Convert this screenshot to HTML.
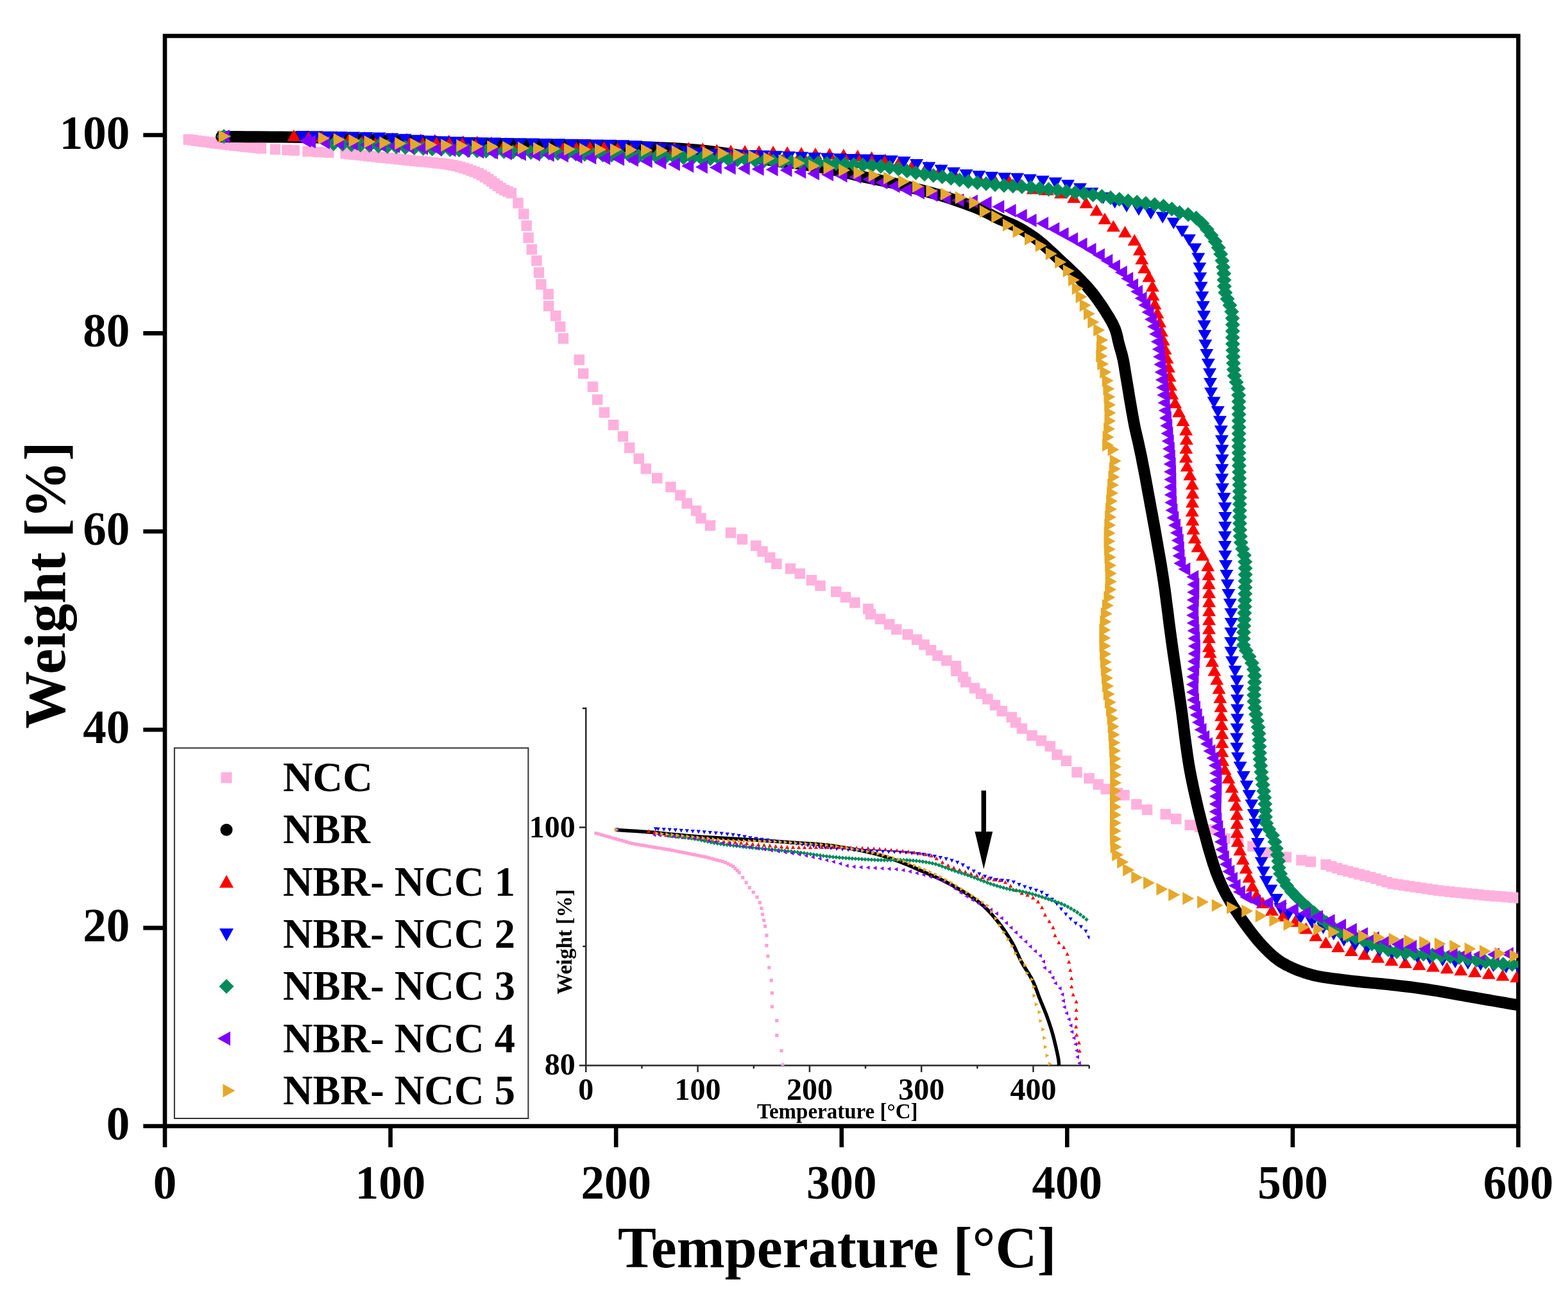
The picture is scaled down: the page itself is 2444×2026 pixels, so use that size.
<!DOCTYPE html>
<html><head><meta charset="utf-8"><title>TGA Weight vs Temperature</title>
<style>html,body{margin:0;padding:0;background:#fff;}svg{display:block;}</style></head>
<body><svg width="2444" height="2026" viewBox="0 0 2444 2026">
<rect width="2444" height="2026" fill="#fff"/>
<g stroke="#000" stroke-width="6.6" fill="none" stroke-linecap="square">
<rect x="257.0" y="56.0" width="2109.5" height="1699.0"/>
</g>
<g stroke="#000" stroke-width="6.6">
<line x1="257.0" y1="1755.0" x2="257.0" y2="1788"/>
<line x1="608.6" y1="1755.0" x2="608.6" y2="1788"/>
<line x1="960.2" y1="1755.0" x2="960.2" y2="1788"/>
<line x1="1311.8" y1="1755.0" x2="1311.8" y2="1788"/>
<line x1="1663.3" y1="1755.0" x2="1663.3" y2="1788"/>
<line x1="2014.9" y1="1755.0" x2="2014.9" y2="1788"/>
<line x1="2366.5" y1="1755.0" x2="2366.5" y2="1788"/>
<line x1="223.3" y1="1755.0" x2="257.0" y2="1755.0"/>
<line x1="223.3" y1="1446.1" x2="257.0" y2="1446.1"/>
<line x1="223.3" y1="1137.2" x2="257.0" y2="1137.2"/>
<line x1="223.3" y1="828.3" x2="257.0" y2="828.3"/>
<line x1="223.3" y1="519.4" x2="257.0" y2="519.4"/>
<line x1="223.3" y1="210.5" x2="257.0" y2="210.5"/>
</g>
<g style="font-family:'Liberation Serif','Times New Roman',serif;font-weight:bold" font-size="73" fill="#000">
<text x="257.0" y="1868" text-anchor="middle">0</text>
<text x="608.6" y="1868" text-anchor="middle">100</text>
<text x="960.2" y="1868" text-anchor="middle">200</text>
<text x="1311.8" y="1868" text-anchor="middle">300</text>
<text x="1663.3" y="1868" text-anchor="middle">400</text>
<text x="2014.9" y="1868" text-anchor="middle">500</text>
<text x="2366.5" y="1868" text-anchor="middle">600</text>
<text x="202.2" y="1776.0" text-anchor="end">0</text>
<text x="202.2" y="1467.1" text-anchor="end">20</text>
<text x="202.2" y="1158.2" text-anchor="end">40</text>
<text x="202.2" y="849.3" text-anchor="end">60</text>
<text x="202.2" y="540.4" text-anchor="end">80</text>
<text x="202.2" y="231.5" text-anchor="end">100</text>
</g>
<text x="1304.7" y="1975" text-anchor="middle" font-size="90" style="font-family:'Liberation Serif','Times New Roman',serif;font-weight:bold">Temperature [°C]</text>
<text transform="translate(100.6,912) rotate(-90)" x="0" y="0" text-anchor="middle" font-size="90" style="font-family:'Liberation Serif','Times New Roman',serif;font-weight:bold">Weight [%]</text>
<defs><clipPath id="pc"><rect x="257" y="56" width="2109.5" height="1699"/></clipPath><clipPath id="ic"><rect x="913" y="1100" width="785.5" height="561"/></clipPath></defs>
<g clip-path="url(#pc)">
<path fill="#FFB1DD" d="M285.6 209.2h16.5v16.5h-16.5zM291.5 210.1h16.5v16.5h-16.5zM297.4 210.9h16.5v16.5h-16.5zM303.4 211.7h16.5v16.5h-16.5zM309.3 212.5h16.5v16.5h-16.5zM315.3 213.3h16.5v16.5h-16.5zM321.2 214.1h16.5v16.5h-16.5zM327.2 214.9h16.5v16.5h-16.5zM333.1 215.6h16.5v16.5h-16.5zM339.1 216.3h16.5v16.5h-16.5zM345 217h16.5v16.5h-16.5zM351 217.7h16.5v16.5h-16.5zM357 218.4h16.5v16.5h-16.5zM362.9 219.1h16.5v16.5h-16.5zM368.9 219.7h16.5v16.5h-16.5zM374.9 220.4h16.5v16.5h-16.5zM380.8 221h16.5v16.5h-16.5zM386.8 221.7h16.5v16.5h-16.5zM392.8 222.3h16.5v16.5h-16.5zM398.7 222.9h16.5v16.5h-16.5zM530.4 231.1h16.5v16.5h-16.5zM536.4 231.7h16.5v16.5h-16.5zM542.4 232.4h16.5v16.5h-16.5zM548.3 233h16.5v16.5h-16.5zM554.3 233.6h16.5v16.5h-16.5zM560.3 234.3h16.5v16.5h-16.5zM566.2 235h16.5v16.5h-16.5zM572.2 235.6h16.5v16.5h-16.5zM578.2 236.2h16.5v16.5h-16.5zM584.1 236.9h16.5v16.5h-16.5zM590.1 237.5h16.5v16.5h-16.5zM596.1 238.1h16.5v16.5h-16.5zM602 238.7h16.5v16.5h-16.5zM608 239.3h16.5v16.5h-16.5zM614 239.9h16.5v16.5h-16.5zM620 240.6h16.5v16.5h-16.5zM625.9 241.2h16.5v16.5h-16.5zM631.9 241.8h16.5v16.5h-16.5zM637.9 242.4h16.5v16.5h-16.5zM643.8 243h16.5v16.5h-16.5zM649.8 243.5h16.5v16.5h-16.5zM655.8 244.1h16.5v16.5h-16.5zM661.7 244.7h16.5v16.5h-16.5zM667.7 245.2h16.5v16.5h-16.5zM673.7 245.9h16.5v16.5h-16.5zM679.6 246.5h16.5v16.5h-16.5zM685.6 247.3h16.5v16.5h-16.5zM691.5 248.2h16.5v16.5h-16.5zM697.4 249.2h16.5v16.5h-16.5zM703.3 250.5h16.5v16.5h-16.5zM709.1 252h16.5v16.5h-16.5zM714.9 253.7h16.5v16.5h-16.5zM720.5 255.6h16.5v16.5h-16.5zM726.2 257.7h16.5v16.5h-16.5zM731.8 259.8h16.5v16.5h-16.5zM737.3 262.1h16.5v16.5h-16.5zM742.7 264.8h16.5v16.5h-16.5zM747.9 267.8h16.5v16.5h-16.5zM752.9 271.1h16.5v16.5h-16.5zM757.9 274.4h16.5v16.5h-16.5zM762.8 277.9h16.5v16.5h-16.5zM767.6 281.5h16.5v16.5h-16.5zM772.5 284.9h16.5v16.5h-16.5zM777.7 288h16.5v16.5h-16.5zM783.2 290.2h16.5v16.5h-16.5zM788.6 292.8h16.5v16.5h-16.5zM799.3 308.3h16.5v16.5h-16.5zM808.1 325.2h16.5v16.5h-16.5zM812.5 343.6h16.5v16.5h-16.5zM815.4 362.3h16.5v16.5h-16.5zM820.6 380.5h16.5v16.5h-16.5zM828.2 397.9h16.5v16.5h-16.5zM831.7 416.5h16.5v16.5h-16.5zM835.1 435.1h16.5v16.5h-16.5zM846.4 450.2h16.5v16.5h-16.5zM846.9 468.8h16.5v16.5h-16.5zM858 483.9h16.5v16.5h-16.5zM865 501h16.5v16.5h-16.5zM869.7 519.2h16.5v16.5h-16.5zM420.8 224.5h16.5v16.5h-16.5zM439.2 225.5h16.5v16.5h-16.5zM450.6 226.2h16.5v16.5h-16.5zM471.4 227.7h16.5v16.5h-16.5zM487.8 228.8h16.5v16.5h-16.5zM504.1 229.6h16.5v16.5h-16.5zM894.6 552.5h16.5v16.5h-16.5zM901 573.9h16.5v16.5h-16.5zM915.8 594.6h16.5v16.5h-16.5zM923 614.6h16.5v16.5h-16.5zM933.6 634.6h16.5v16.5h-16.5zM948 654.1h16.5v16.5h-16.5zM962.8 672h16.5v16.5h-16.5zM973 689.4h16.5v16.5h-16.5zM987.5 706.5h16.5v16.5h-16.5zM998.6 722.2h16.5v16.5h-16.5zM1016 737h16.5v16.5h-16.5zM1037.2 750.8h16.5v16.5h-16.5zM1052.2 763.6h16.5v16.5h-16.5zM1062.5 776.2h16.5v16.5h-16.5zM1076.8 787.8h16.5v16.5h-16.5zM1084.3 799.4h16.5v16.5h-16.5zM1098.7 810.8h16.5v16.5h-16.5zM1130.8 822h16.5v16.5h-16.5zM1148.7 832.2h16.5v16.5h-16.5zM1170 842.2h16.5v16.5h-16.5zM1180.3 851.2h16.5v16.5h-16.5zM1192 860.8h16.5v16.5h-16.5zM1202.2 870.4h16.5v16.5h-16.5zM1223.7 878h16.5v16.5h-16.5zM1238.5 885.8h16.5v16.5h-16.5zM1256.7 896h16.5v16.5h-16.5zM1270.3 904.5h16.5v16.5h-16.5zM1295 914h16.5v16.5h-16.5zM1309.8 922.6h16.5v16.5h-16.5zM1324.2 931.1h16.5v16.5h-16.5zM1345 940.8h16.5v16.5h-16.5zM1348.8 948.9h16.5v16.5h-16.5zM1363.7 956.5h16.5v16.5h-16.5zM1378 964.8h16.5v16.5h-16.5zM1389 972.8h16.5v16.5h-16.5zM1406.5 980.4h16.5v16.5h-16.5zM1420.8 988.4h16.5v16.5h-16.5zM1432.2 996.5h16.5v16.5h-16.5zM1442.8 1005h16.5v16.5h-16.5zM1453.2 1013.6h16.5v16.5h-16.5zM1467 1021.2h16.5v16.5h-16.5zM1481.8 1029.8h16.5v16.5h-16.5zM1482.2 1037.5h16.5v16.5h-16.5zM1492.8 1046.7h16.5v16.5h-16.5zM1497 1054.7h16.5v16.5h-16.5zM1510.8 1064.2h16.5v16.5h-16.5zM1520.8 1072.8h16.5v16.5h-16.5zM1531.2 1081.2h16.5v16.5h-16.5zM1542.8 1090.8h16.5v16.5h-16.5zM1553.5 1100h16.5v16.5h-16.5zM1568.5 1109.5h16.5v16.5h-16.5zM1574.8 1117.8h16.5v16.5h-16.5zM1584.7 1127.3h16.5v16.5h-16.5zM1600.2 1138h16.5v16.5h-16.5zM1614.8 1146h16.5v16.5h-16.5zM1628.5 1154.8h16.5v16.5h-16.5zM1639.3 1168h16.5v16.5h-16.5zM1653.7 1177.5h16.5v16.5h-16.5zM1670.3 1195.3h16.5v16.5h-16.5zM1689.3 1204.8h16.5v16.5h-16.5zM1703.7 1214.3h16.5v16.5h-16.5zM1715.5 1221.5h16.5v16.5h-16.5zM1733.8 1227.8h16.5v16.5h-16.5zM1744.2 1231h16.5v16.5h-16.5zM1763.2 1245.3h16.5v16.5h-16.5zM1779.8 1253.8h16.5v16.5h-16.5zM1808.5 1260.8h16.5v16.5h-16.5zM1825 1268h16.5v16.5h-16.5zM1846.5 1277.5h16.5v16.5h-16.5zM1861.8 1280.8h16.5v16.5h-16.5zM1879.8 1284.7h16.5v16.5h-16.5zM1901.2 1298.8h16.5v16.5h-16.5zM1921.8 1303.8h16.5v16.5h-16.5zM1944.2 1310.8h16.5v16.5h-16.5zM1968 1320.3h16.5v16.5h-16.5zM1996.5 1327.5h16.5v16.5h-16.5zM2020.3 1332.2h16.5v16.5h-16.5zM2034.7 1334.8h16.5v16.5h-16.5zM2058.4 1339.3h16.5v16.5h-16.5zM2058.4 1339.3h16.5v16.5h-16.5zM2067 1342h16.5v16.5h-16.5zM2075.6 1344.7h16.5v16.5h-16.5zM2084.2 1347.4h16.5v16.5h-16.5zM2092.9 1349.8h16.5v16.5h-16.5zM2101.6 1352h16.5v16.5h-16.5zM2110.3 1354.2h16.5v16.5h-16.5zM2119.1 1356.4h16.5v16.5h-16.5zM2127.8 1358.7h16.5v16.5h-16.5zM2136.4 1361.3h16.5v16.5h-16.5zM2145 1363.9h16.5v16.5h-16.5zM2153.6 1366.4h16.5v16.5h-16.5zM2162.3 1369h16.5v16.5h-16.5zM2171.2 1370.3h16.5v16.5h-16.5zM2180.1 1371.7h16.5v16.5h-16.5zM2189 1373h16.5v16.5h-16.5zM2197.9 1374.3h16.5v16.5h-16.5zM2206.8 1375.6h16.5v16.5h-16.5zM2215.7 1377h16.5v16.5h-16.5zM2224.6 1378.3h16.5v16.5h-16.5zM2233.5 1379.6h16.5v16.5h-16.5zM2242.4 1380.6h16.5v16.5h-16.5zM2251.4 1381.5h16.5v16.5h-16.5zM2260.3 1382.4h16.5v16.5h-16.5zM2269.3 1383.3h16.5v16.5h-16.5zM2278.2 1384.2h16.5v16.5h-16.5zM2287.2 1385.1h16.5v16.5h-16.5zM2296.1 1386h16.5v16.5h-16.5zM2305.1 1386.9h16.5v16.5h-16.5zM2314.1 1387.7h16.5v16.5h-16.5zM2323 1388.4h16.5v16.5h-16.5zM2332 1389.1h16.5v16.5h-16.5zM2341 1389.8h16.5v16.5h-16.5zM2350 1390.5h16.5v16.5h-16.5zM2358.9 1391.2h16.5v16.5h-16.5z"/>
<polyline points="345,213 355,213.1 368.5,213.1 384.6,213.2 402.4,213.3 420.9,213.4 439.1,213.6 456.2,213.8 471,214 483.5,214.3 494.7,214.6 504.8,214.9 514.6,215.2 524.5,215.6 535,216.1 546.7,216.5 560,217 575.3,217.5 592.4,218.2 610.5,218.8 629.3,219.5 648.2,220.2 666.6,220.8 684.1,221.5 700,222 714.4,222.5 727.8,222.9 740.4,223.3 752.5,223.7 764.3,224 775.9,224.4 787.8,224.7 800,225 812.5,225.3 825,225.6 837.5,225.8 850,226.1 862.5,226.3 875,226.5 887.5,226.8 900,227 912.5,227.2 925,227.4 937.5,227.6 950,227.8 962.5,228 975,228.2 987.5,228.6 1000,229 1012.4,229.5 1024.7,230 1036.9,230.5 1049.1,231.1 1061.5,231.8 1074,232.7 1086.8,233.7 1100,235 1114.1,236.6 1129.4,238.7 1145.3,241 1161.2,243.4 1176.6,245.8 1190.9,248 1203.5,250 1214,251.5 1221.8,252.6 1227.4,253.2 1231.3,253.7 1234.1,253.9 1236.5,254.1 1239,254.4 1242.3,254.8 1247,255.5 1253,256.5 1259.8,257.6 1267,258.8 1274.6,260.2 1282.2,261.5 1289.6,262.9 1296.6,264.2 1303,265.5 1308.7,266.7 1313.9,267.9 1318.7,269.1 1323.4,270.2 1328,271.4 1332.7,272.6 1337.6,273.8 1343,275 1348.7,276.2 1354.6,277.5 1360.7,278.7 1366.9,279.9 1373.3,281.2 1379.8,282.6 1386.3,284 1393,285.5 1400,287.2 1407.5,289 1415.3,291 1423.1,293 1430.7,294.9 1437.9,296.8 1444.4,298.5 1450,300 1454.5,301.2 1458.1,302.2 1461,303 1463.4,303.7 1465.7,304.3 1468,305.1 1470.7,305.9 1474,307 1477.9,308.3 1482.2,309.7 1486.8,311.3 1491.5,312.9 1496.1,314.5 1500.6,316.1 1504.8,317.6 1508.6,319 1511.9,320.2 1514.8,321.3 1517.4,322.2 1519.8,323.2 1522.2,324.1 1524.6,325.1 1527.2,326.2 1530,327.5 1533,328.9 1536,330.4 1539.2,332 1542.4,333.6 1545.6,335.3 1549,337.1 1552.4,338.8 1556,340.5 1559.7,342.2 1563.5,343.8 1567.5,345.5 1571.5,347.2 1575.6,348.9 1579.7,350.7 1583.7,352.6 1587.7,354.7 1591.6,356.9 1595.5,359.1 1599.3,361.5 1603.2,363.9 1607,366.5 1610.8,369.1 1614.7,371.9 1618.6,374.9 1622.5,378 1626.4,381.4 1630.4,384.9 1634.3,388.5 1638.3,392.2 1642.3,395.9 1646.2,399.6 1650.2,403.3 1654.2,407 1658.3,410.8 1662.5,414.7 1666.6,418.5 1670.7,422.4 1674.6,426.2 1678.4,429.9 1682,433.5 1685.4,437 1688.5,440.3 1691.6,443.6 1694.5,446.8 1697.3,450 1700,453.3 1702.8,456.6 1705.5,460.1 1708.2,463.7 1711,467.5 1713.7,471.4 1716.4,475.2 1718.9,479.1 1721.4,482.9 1723.7,486.5 1725.8,489.9 1727.8,493.1 1729.6,496.1 1731.2,498.9 1732.8,501.7 1734.2,504.4 1735.6,507.1 1736.8,509.8 1738,512.6 1739,515.5 1739.9,518.3 1740.7,521.2 1741.4,524 1742,526.9 1742.6,529.8 1743.3,532.7 1744,535.6 1744.8,538.5 1745.6,541.5 1746.5,544.4 1747.3,547.4 1748.2,550.4 1749,553.4 1749.7,556.3 1750.4,559.3 1751,562.1 1751.5,564.8 1752,567.4 1752.4,570.1 1752.9,572.9 1753.3,575.9 1753.9,579.2 1754.5,583 1755.2,587.3 1756,592.1 1756.9,597.2 1757.8,602.6 1758.7,608 1759.6,613.5 1760.4,618.8 1761.3,623.8 1762.1,628.6 1762.9,633.3 1763.7,637.9 1764.5,642.4 1765.3,647 1766.1,651.5 1766.9,656 1767.8,660.6 1768.7,665.2 1769.7,669.8 1770.8,674.4 1771.8,679 1772.9,683.6 1774,688.2 1775,692.8 1776,697.4 1777,702 1777.9,706.6 1778.9,711.2 1779.8,715.8 1780.7,720.4 1781.6,725 1782.5,729.6 1783.4,734.1 1784.2,738.4 1785,742.4 1785.7,746.2 1786.4,750.1 1787.1,754.2 1788,758.8 1788.9,764 1790,770 1791.3,776.9 1792.7,784.7 1794.2,793 1795.9,801.8 1797.5,810.8 1799.2,820 1800.8,829.1 1802.4,838 1803.9,846.6 1805.4,855.2 1806.9,863.7 1808.4,872.3 1809.9,881.1 1811.3,890.2 1812.8,899.6 1814.3,909.5 1815.8,919.8 1817.2,930.6 1818.6,941.6 1820.1,953 1821.5,964.5 1823,976.3 1824.6,988.1 1826.2,1000 1827.9,1012.1 1829.7,1024.7 1831.6,1037.4 1833.5,1050.3 1835.4,1063.1 1837.2,1075.8 1839,1088.1 1840.7,1100 1842.3,1111.6 1843.8,1123.2 1845.2,1134.5 1846.6,1145.6 1848,1156.4 1849.4,1166.8 1850.8,1176.7 1852.2,1186 1853.6,1194.6 1855,1202.4 1856.4,1209.7 1857.8,1216.6 1859.2,1223.3 1860.6,1229.9 1862.1,1236.6 1863.7,1243.6 1865.3,1250.8 1867,1258 1868.7,1265.1 1870.5,1272.3 1872.3,1279.5 1874.1,1286.7 1876,1293.8 1878,1301 1880,1308.3 1882,1315.7 1884.1,1323.2 1886.3,1330.6 1888.5,1337.9 1890.7,1345.1 1893,1351.9 1895.3,1358.4 1897.6,1364.5 1899.9,1370.2 1902.3,1375.6 1904.6,1380.8 1907.1,1386 1909.7,1391.1 1912.5,1396.2 1915.4,1401.5 1918.6,1406.9 1921.9,1412.5 1925.5,1418 1929.2,1423.6 1932.9,1429.1 1936.6,1434.4 1940.4,1439.6 1944,1444.6 1947.6,1449.4 1951.2,1454.1 1954.8,1458.6 1958.4,1463.1 1962,1467.3 1965.6,1471.4 1969.2,1475.3 1972.8,1479 1976.3,1482.5 1979.6,1485.7 1982.9,1488.7 1986.3,1491.6 1989.7,1494.3 1993.3,1496.9 1997.2,1499.5 2001.5,1502 2006.1,1504.5 2011,1506.9 2016.1,1509.2 2021.4,1511.5 2026.9,1513.6 2032.6,1515.6 2038.5,1517.5 2044.6,1519.2 2050.8,1520.7 2057.2,1522 2063.8,1523.2 2070.6,1524.2 2077.6,1525.1 2084.8,1526 2092.3,1526.9 2100,1527.9 2108.2,1528.9 2116.8,1529.8 2125.8,1530.7 2135,1531.6 2144.2,1532.4 2153.2,1533.3 2161.9,1534.1 2170,1535 2177.6,1535.9 2184.8,1536.7 2191.7,1537.5 2198.4,1538.3 2205,1539.2 2211.6,1540.1 2218.2,1541 2225,1542 2231.9,1543.1 2239,1544.2 2246,1545.4 2253.1,1546.7 2260,1547.9 2266.9,1549.2 2273.6,1550.4 2280,1551.5 2286.2,1552.6 2292.2,1553.6 2298,1554.6 2303.7,1555.6 2309.3,1556.6 2314.9,1557.6 2320.4,1558.5 2326,1559.5 2331.9,1560.5 2338.2,1561.6 2344.6,1562.7 2350.9,1563.8 2356.8,1564.8 2362.1,1565.7 2366.6,1566.4 2370,1567" fill="none" stroke="#000" stroke-width="18" stroke-linejoin="round" stroke-linecap="round"/>
<path fill="#FF0000" d="M349 202.6L359.5 220.6H338.5zM458 202.1L468.5 220.1H447.5zM480 202.7L490.5 220.7H469.5zM502 203.3L512.5 221.3H491.5zM524 203.8L534.5 221.8H513.5zM545.9 204.4L556.4 222.4H535.4zM567.9 205.1L578.4 223.1H557.4zM589.9 205.8L600.4 223.8H579.4zM611.9 206.5L622.4 224.5H601.4zM633.9 207.3L644.4 225.3H623.4zM655.8 208.2L666.3 226.2H645.3zM677.8 209L688.3 227H667.3zM699.8 209.9L710.3 227.9H689.3zM721.7 210.9L732.2 228.9H711.2zM743.7 211.8L754.2 229.8H733.2zM765.7 212.8L776.2 230.8H755.2zM787.6 213.9L798.1 231.9H777.1zM809.6 215.1L820.1 233.1H799.1zM831.5 216.3L842 234.3H821zM853.5 217.4L864 235.4H843zM875.4 218.4L885.9 236.4H864.9zM897.4 219.2L907.9 237.2H886.9zM919.4 219.7L929.9 237.7H908.9zM941.4 219.9L951.9 237.9H930.9zM963.4 219.9L973.9 237.9H952.9zM985.4 220L995.9 238H974.9zM1007.4 220.2L1017.9 238.2H996.9zM1029.4 220.6L1039.9 238.6H1018.9zM1051.4 221L1061.9 239H1040.9zM1073.4 221.6L1083.9 239.6H1062.9zM1095.3 222.3L1105.8 240.3H1084.8zM1117.2 224.5L1127.7 242.5H1106.7zM1139.1 225.4L1149.6 243.4H1128.6zM1161.1 226.1L1171.6 244.1H1150.6zM1183.1 226.6L1193.6 244.6H1172.6zM1205.1 227L1215.6 245H1194.6zM1227.1 227.9L1237.6 245.9H1216.6zM1249 229.1L1259.5 247.1H1238.5zM1271 229.9L1281.5 247.9H1260.5zM1293 230.6L1303.5 248.6H1282.5zM1314.9 231.8L1325.4 249.8H1304.4zM1336.8 233.3L1347.3 251.3H1326.3zM1358.6 235.7L1369.1 253.7H1348.1zM1380 239.4L1390.5 257.4H1369.5zM1401.5 243.2L1412 261.2H1391zM1422.9 247L1433.4 265H1412.4zM1444.3 251L1454.8 269H1433.8zM1465.5 255.4L1476 273.4H1455zM1486.6 260.2L1497.1 278.2H1476.1zM1507.5 265.6L1518 283.6H1497zM1527.4 271.1L1537.9 289.1H1516.9zM1549.3 269.3L1559.8 287.3H1538.8zM1571.3 270.1L1581.8 288.1H1560.8zM1591 278.4L1601.5 296.4H1580.5zM1610.4 284.4L1620.9 302.4H1599.9zM1632.3 286.3L1642.8 304.3H1621.8zM1653.6 291.3L1664.1 309.3H1643.1zM1673.8 298.2L1684.3 316.2H1663.3zM1693 306.6L1703.5 324.6H1682.5zM1709.2 318.3L1719.7 336.3H1698.7zM1722 331.6L1732.5 349.6H1711.5zM1735.4 343L1745.9 361H1724.9zM1753.5 352L1764 370H1743zM1768.2 364.8L1778.7 382.8H1757.7zM1776.3 379.9L1786.8 397.9H1765.8zM1779.8 394.1L1790.3 412.1H1769.3zM1783.8 408L1794.3 426H1773.3zM1790.9 421.4L1801.4 439.4H1780.4zM1796.3 436.4L1806.8 454.4H1785.8zM1797 450.4L1807.5 468.4H1786.5zM1800 464.3L1810.5 482.3H1789.5zM1804 478.2L1814.5 496.2H1793.5zM1807.6 492.3L1818.1 510.3H1797.1zM1810.5 506.4L1821 524.4H1800zM1813.3 520.5L1823.8 538.5H1802.8zM1816.1 534.5L1826.6 552.5H1805.6zM1819.1 548.5L1829.6 566.5H1808.6zM1821.5 562.6L1832 580.6H1811zM1823.1 576.7L1833.6 594.7H1812.6zM1824.5 590.7L1835 608.7H1814zM1826.8 604.6L1837.3 622.6H1816.3zM1831.6 618.2L1842.1 636.2H1821.1zM1837.5 632.3L1848 650.3H1827zM1844 646L1854.5 664H1833.5zM1848.6 660.5L1859.1 678.5H1838.1zM1849.4 674.9L1859.9 692.9H1838.9zM1848.8 688.9L1859.3 706.9H1838.3zM1848.5 702.9L1859 720.9H1838zM1850.3 716.8L1860.8 734.8H1839.8zM1854.8 730.6L1865.3 748.6H1844.3zM1858.3 745L1868.8 763H1847.8zM1858.9 759.1L1869.4 777.1H1848.4zM1858.5 773.1L1869 791.1H1848zM1858.2 787.1L1868.7 805.1H1847.7zM1858.8 801.1L1869.3 819.1H1848.3zM1859.9 815L1870.4 833H1849.4zM1862.2 828.9L1872.7 846.9H1851.7zM1867 842.6L1877.5 860.6H1856.5zM1874.5 855.8L1885 873.8H1864zM1882.7 872.2L1893.2 890.2H1872.2zM1883.9 886.3L1894.4 904.3H1873.4zM1884.3 900.3L1894.8 918.3H1873.8zM1884.6 914.3L1895.1 932.3H1874.1zM1884.6 928.3L1895.1 946.3H1874.1zM1884.6 942.3L1895.1 960.3H1874.1zM1884.6 956.3L1895.1 974.3H1874.1zM1884.5 970.3L1895 988.3H1874zM1884.5 984.3L1895 1002.3H1874zM1884.4 998.3L1894.9 1016.3H1873.9zM1886.2 1007.3L1896.7 1025.3H1875.7zM1889.5 1021.3L1900 1039.3H1879zM1892.9 1035.4L1903.4 1053.4H1882.4zM1896.7 1049.3L1907.2 1067.3H1886.2zM1900 1063.5L1910.5 1081.5H1889.5zM1901.9 1077.7L1912.4 1095.7H1891.4zM1903 1091.8L1913.5 1109.8H1892.5zM1903.7 1105.8L1914.2 1123.8H1893.2zM1904.3 1119.8L1914.8 1137.8H1893.8zM1904.9 1133.8L1915.4 1151.8H1894.4zM1904.9 1147.8L1915.4 1165.8H1894.4zM1904.8 1161.8L1915.3 1179.8H1894.3zM1905.7 1175.8L1916.2 1193.8H1895.2zM1909.1 1189.4L1919.6 1207.4H1898.6zM1914.9 1203.1L1925.4 1221.1H1904.4zM1920 1217.4L1930.5 1235.4H1909.5zM1924 1231.5L1934.5 1249.5H1913.5zM1926.8 1245.6L1937.3 1263.6H1916.3zM1928 1259.7L1938.5 1277.7H1917.5zM1928.2 1273.7L1938.7 1291.7H1917.7zM1928.2 1287.7L1938.7 1305.7H1917.7zM1929.2 1301.7L1939.7 1319.7H1918.7zM1932.8 1315.3L1943.3 1333.3H1922.3zM1937.3 1329.4L1947.8 1347.4H1926.8zM1942.1 1343.4L1952.6 1361.4H1931.6zM1946.9 1357.5L1957.4 1375.5H1936.4zM1952.1 1371.4L1962.6 1389.4H1941.6zM1958.5 1385.2L1969 1403.2H1948zM1968.2 1397.6L1978.7 1415.6H1957.7zM1982.5 1408.9L1993 1426.9H1972zM1999.6 1418L2010.1 1436H1989.1zM2018.6 1426.4L2029.1 1444.4H2008.1zM2035.7 1437.4L2046.2 1455.4H2025.2zM2050.9 1448.8L2061.4 1466.8H2040.4zM2066.6 1459.6L2077.1 1477.6H2056.1zM2085.7 1466L2096.2 1484H2075.2zM2106.3 1471.9L2116.8 1489.9H2095.8zM2126.8 1477.8L2137.3 1495.8H2116.3zM2147.8 1482.6L2158.3 1500.6H2137.3zM2169 1486.9L2179.5 1504.9H2158.5zM2190.4 1490.8L2200.9 1508.8H2179.9zM2212 1493.8L2222.5 1511.8H2201.5zM2233.7 1496.5L2244.2 1514.5H2223.2zM2255.4 1499.3L2265.9 1517.3H2244.9zM2277 1502.2L2287.5 1520.2H2266.5zM2298.7 1505.1L2309.2 1523.1H2288.2zM2320.4 1507.8L2330.9 1525.8H2309.9zM2342.1 1510.5L2352.6 1528.5H2331.6zM2363.9 1513.1L2374.4 1531.1H2353.4z"/>
<path fill="#0000FF" d="M349 222.4L359.5 204.4H338.5zM471 221.9L481.5 203.9H460.5zM491 222.3L501.5 204.3H480.5zM511 222.7L521.5 204.7H500.5zM531 223.1L541.5 205.1H520.5zM551 223.5L561.5 205.5H540.5zM571 224L581.5 206H560.5zM591 224.6L601.5 206.6H580.5zM610.9 225.4L621.4 207.4H600.4zM630.9 226.7L641.4 208.7H620.4zM650.8 228.2L661.3 210.2H640.3zM670.7 229.6L681.2 211.6H660.2zM690.7 230.5L701.2 212.5H680.2zM710.7 231.2L721.2 213.2H700.2zM730.7 231.7L741.2 213.7H720.2zM750.6 232.2L761.1 214.2H740.1zM770.6 232.6L781.1 214.6H760.1zM790.6 232.9L801.1 214.9H780.1zM810.6 233.3L821.1 215.3H800.1zM830.6 233.6L841.1 215.6H820.1zM850.6 234L861.1 216H840.1zM870.6 234.3L881.1 216.3H860.1zM890.6 234.7L901.1 216.7H880.1zM910.6 235.1L921.1 217.1H900.1zM930.6 235.5L941.1 217.5H920.1zM950.6 235.8L961.1 217.8H940.1zM970.6 236.3L981.1 218.3H960.1zM990.6 237.3L1001.1 219.3H980.1zM1010.5 238.8L1021 220.8H1000zM1030.3 240.9L1040.8 222.9H1019.8zM1050.1 243.2L1060.6 225.2H1039.6zM1069.9 245.7L1080.4 227.7H1059.4zM1089.7 248L1100.2 230H1079.2zM1109.5 249.9L1120 231.9H1099zM1129.5 251L1140 233H1119zM1149.4 251.7L1159.9 233.7H1138.9zM1169.4 252.1L1179.9 234.1H1158.9zM1189.4 252.6L1199.9 234.6H1178.9zM1209.4 253.3L1219.9 235.3H1198.9zM1229.4 254L1239.9 236H1218.9zM1249.4 254.8L1259.9 236.8H1238.9zM1269.3 255.7L1279.8 237.7H1258.8zM1289.3 256.5L1299.8 238.5H1278.8zM1309.3 257.2L1319.8 239.2H1298.8zM1329.3 257.9L1339.8 239.9H1318.8zM1349.3 258.5L1359.8 240.5H1338.8zM1369.2 259.2L1379.7 241.2H1358.7zM1389.2 260.2L1399.7 242.2H1378.7zM1409.1 261.9L1419.6 243.9H1398.6zM1428.6 266.1L1439.1 248.1H1418.1zM1447.7 270.5L1458.2 252.5H1437.2zM1467 274.8L1477.5 256.8H1456.5zM1486.4 278.7L1496.9 260.7H1475.9zM1506 281.9L1516.5 263.9H1495.5zM1525.8 284.1L1536.3 266.1H1515.3zM1545.6 285.8L1556.1 267.8H1535.1zM1565.5 287.3L1576 269.3H1555zM1585.5 287.8L1596 269.8H1575zM1605.4 289.5L1615.9 271.5H1594.9zM1625.2 291.8L1635.7 273.8H1614.7zM1645 294.5L1655.5 276.5H1634.5zM1664.5 298.3L1675 280.3H1654zM1683.5 303.6L1694 285.6H1673zM1701.8 310.5L1712.3 292.5H1691.3zM1719.7 317.8L1730.2 299.8H1709.2zM1737.6 324.9L1748.1 306.9H1727.1zM1756 331L1766.5 313H1745.5zM1774.9 336.3L1785.4 318.3H1764.4zM1793.7 342L1804.2 324H1783.2zM1812.1 348.3L1822.6 330.3H1801.6zM1829.2 357.2L1839.7 339.2H1818.7zM1842.5 369.7L1853 351.7H1832zM1853.3 383.2L1863.8 365.2H1842.8zM1862.5 397.3L1873 379.3H1852zM1867.8 412.2L1878.3 394.2H1857.3zM1869.8 427.3L1880.3 409.3H1859.3zM1870.7 442.4L1881.2 424.4H1860.2zM1872.1 457.3L1882.6 439.3H1861.6zM1873.8 472.3L1884.3 454.3H1863.3zM1875.3 487.3L1885.8 469.3H1864.8zM1876.5 502.3L1887 484.3H1866zM1877.1 517.3L1887.6 499.3H1866.6zM1877.7 532.2L1888.2 514.2H1867.2zM1878.8 547.2L1889.3 529.2H1868.3zM1880.8 562.1L1891.3 544.1H1870.3zM1883.3 577.1L1893.8 559.1H1872.8zM1885.5 592L1896 574H1875zM1886.5 607.1L1897 589.1H1876zM1887.5 622L1898 604H1877zM1892.1 636.4L1902.6 618.4H1881.6zM1898.2 651L1908.7 633H1887.7zM1901.5 666.3L1912 648.3H1891zM1903.3 681.3L1913.8 663.3H1892.8zM1904.4 696.3L1914.9 678.3H1893.9zM1904.9 711.3L1915.4 693.3H1894.4zM1905 726.3L1915.5 708.3H1894.5zM1904.7 741.3L1915.2 723.3H1894.2zM1904.6 756.3L1915.1 738.3H1894.1zM1905.3 771.2L1915.8 753.2H1894.8zM1908 786L1918.5 768H1897.5zM1909.5 801.1L1920 783.1H1899zM1909.7 816.1L1920.2 798.1H1899.2zM1909.5 831.1L1920 813.1H1899zM1909.3 846.1L1919.8 828.1H1898.8zM1909.3 861.1L1919.8 843.1H1898.8zM1909.7 876.1L1920.2 858.1H1899.2zM1910.6 891.1L1921.1 873.1H1900.1zM1911.8 906.1L1922.3 888.1H1901.3zM1913.3 921L1923.8 903H1902.8zM1914.9 936L1925.4 918H1904.4zM1917.3 950.9L1927.8 932.9H1906.8zM1918.9 965.9L1929.4 947.9H1908.4zM1919.1 980.9L1929.6 962.9H1908.6zM1918.8 995.9L1929.3 977.9H1908.3zM1918.6 1010.9L1929.1 992.9H1908.1zM1918.8 1025.9L1929.3 1007.9H1908.3zM1920.5 1040.8L1931 1022.8H1910zM1925.1 1055.4L1935.6 1037.4H1914.6zM1927.7 1070.5L1938.2 1052.5H1917.2zM1928.4 1085.5L1938.9 1067.5H1917.9zM1928.5 1100.5L1939 1082.5H1918zM1928.6 1115.5L1939.1 1097.5H1918.1zM1928.6 1130.5L1939.1 1112.5H1918.1zM1928.2 1145.5L1938.7 1127.5H1917.7zM1927.7 1160.5L1938.2 1142.5H1917.2zM1927.8 1175.5L1938.3 1157.5H1917.3zM1929.4 1190.4L1939.9 1172.4H1918.9zM1933.1 1205L1943.6 1187H1922.6zM1938.3 1219.7L1948.8 1201.7H1927.8zM1943.1 1234.4L1953.6 1216.4H1932.6zM1947.1 1249.3L1957.6 1231.3H1936.6zM1950.9 1264.1L1961.4 1246.1H1940.4zM1954.3 1279L1964.8 1261H1943.8zM1956.8 1294L1967.3 1276H1946.3zM1958.5 1309L1969 1291H1948zM1960.6 1323.9L1971.1 1305.9H1950.1zM1963.2 1338.8L1973.7 1320.8H1952.7zM1966.2 1353.7L1976.7 1335.7H1955.7zM1969.3 1368.6L1979.8 1350.6H1958.8zM1973.4 1383.3L1983.9 1365.3H1962.9zM1980.8 1396.8L1991.3 1378.8H1970.3zM1989.4 1411L1999.9 1393H1978.9zM1995.6 1425.4L2006.1 1407.4H1985.1zM2008.5 1434.5L2019 1416.5H1998zM2027 1440.6L2037.5 1422.6H2016.5zM2045.2 1447.4L2055.7 1429.4H2034.7zM2062.5 1455.7L2073 1437.7H2052zM2078.7 1465.5L2089.2 1447.5H2068.2zM2094.7 1475L2105.2 1457H2084.2zM2112.1 1481.9L2122.6 1463.9H2101.6zM2131.1 1486.9L2141.6 1468.9H2120.6zM2150.3 1491.4L2160.8 1473.4H2139.8zM2169.6 1495.5L2180.1 1477.5H2159.1zM2189.2 1498.5L2199.7 1480.5H2178.7zM2209 1500.9L2219.5 1482.9H2198.5zM2228.8 1503.4L2239.3 1485.4H2218.3zM2248.5 1506.2L2259 1488.2H2238zM2268.2 1508.9L2278.7 1490.9H2257.7zM2288 1511.1L2298.5 1493.1H2277.5zM2307.8 1513.1L2318.3 1495.1H2297.3zM2327.7 1515L2338.2 1497H2317.2zM2347.5 1516.9L2358 1498.9H2337zM2367.4 1518.7L2377.9 1500.7H2356.9z"/>
<path fill="#008A5A" d="M349 201L360.5 212.5L349 224L337.5 212.5zM520 212.5L531.5 224L520 235.5L508.5 224zM534 213.2L545.5 224.7L534 236.2L522.5 224.7zM547.9 213.9L559.4 225.4L547.9 236.9L536.4 225.4zM561.9 214.6L573.4 226.1L561.9 237.6L550.4 226.1zM575.9 215.3L587.4 226.8L575.9 238.3L564.4 226.8zM589.9 216L601.4 227.5L589.9 239L578.4 227.5zM603.8 216.7L615.3 228.2L603.8 239.7L592.3 228.2zM617.8 217.4L629.3 228.9L617.8 240.4L606.3 228.9zM631.8 218.2L643.3 229.7L631.8 241.2L620.3 229.7zM645.7 218.9L657.2 230.4L645.7 241.9L634.2 230.4zM659.7 219.7L671.2 231.2L659.7 242.7L648.2 231.2zM673.7 220.4L685.2 231.9L673.7 243.4L662.2 231.9zM687.7 221.1L699.2 232.6L687.7 244.1L676.2 232.6zM701.6 221.7L713.1 233.2L701.6 244.7L690.1 233.2zM715.6 222.3L727.1 233.8L715.6 245.3L704.1 233.8zM729.6 222.9L741.1 234.4L729.6 245.9L718.1 234.4zM743.6 223.4L755.1 234.9L743.6 246.4L732.1 234.9zM757.6 223.9L769.1 235.4L757.6 246.9L746.1 235.4zM771.5 224.4L783 235.9L771.5 247.4L760 235.9zM785.5 224.8L797 236.3L785.5 247.8L774 236.3zM799.5 225.3L811 236.8L799.5 248.3L788 236.8zM813.5 225.7L825 237.2L813.5 248.7L802 237.2zM827.5 226.1L839 237.6L827.5 249.1L816 237.6zM841.5 226.6L853 238.1L841.5 249.6L830 238.1zM855.5 227L867 238.5L855.5 250L844 238.5zM869.5 227.5L881 239L869.5 250.5L858 239zM883.5 228L895 239.5L883.5 251L872 239.5zM897.4 228.4L908.9 239.9L897.4 251.4L885.9 239.9zM911.4 228.9L922.9 240.4L911.4 251.9L899.9 240.4zM925.4 229.4L936.9 240.9L925.4 252.4L913.9 240.9zM939.4 229.9L950.9 241.4L939.4 252.9L927.9 241.4zM953.4 230.3L964.9 241.8L953.4 253.3L941.9 241.8zM967.4 230.8L978.9 242.3L967.4 253.8L955.9 242.3zM981.4 231.3L992.9 242.8L981.4 254.3L969.9 242.8zM995.4 231.8L1006.9 243.3L995.4 254.8L983.9 243.3zM1009.3 232.3L1020.8 243.8L1009.3 255.3L997.8 243.8zM1023.3 232.8L1034.8 244.3L1023.3 255.8L1011.8 244.3zM1037.3 233.3L1048.8 244.8L1037.3 256.3L1025.8 244.8zM1051.3 233.8L1062.8 245.3L1051.3 256.8L1039.8 245.3zM1065.3 234.2L1076.8 245.7L1065.3 257.2L1053.8 245.7zM1079.3 234.8L1090.8 246.3L1079.3 257.8L1067.8 246.3zM1093.3 235.3L1104.8 246.8L1093.3 258.3L1081.8 246.8zM1107.2 235.8L1118.7 247.3L1107.2 258.8L1095.7 247.3zM1121.2 236.3L1132.7 247.8L1121.2 259.3L1109.7 247.8zM1135.2 236.8L1146.7 248.3L1135.2 259.8L1123.7 248.3zM1149.2 237.4L1160.7 248.9L1149.2 260.4L1137.7 248.9zM1163.2 238L1174.7 249.5L1163.2 261L1151.7 249.5zM1177.2 238.6L1188.7 250.1L1177.2 261.6L1165.7 250.1zM1191.1 239.1L1202.6 250.6L1191.1 262.1L1179.6 250.6zM1205.1 239.7L1216.6 251.2L1205.1 262.7L1193.6 251.2zM1219.1 240.2L1230.6 251.7L1219.1 263.2L1207.6 251.7zM1233.1 240.8L1244.6 252.3L1233.1 263.8L1221.6 252.3zM1247.1 241.3L1258.6 252.8L1247.1 264.3L1235.6 252.8zM1261.1 241.8L1272.6 253.3L1261.1 264.8L1249.6 253.3zM1275 242.4L1286.5 253.9L1275 265.4L1263.5 253.9zM1289 243L1300.5 254.5L1289 266L1277.5 254.5zM1303 243.6L1314.5 255.1L1303 266.6L1291.5 255.1zM1317 244.3L1328.5 255.8L1317 267.3L1305.5 255.8zM1330.9 245L1342.4 256.5L1330.9 268L1319.4 256.5zM1344.9 245.8L1356.4 257.3L1344.9 268.8L1333.4 257.3zM1358.9 246.7L1370.4 258.2L1358.9 269.7L1347.4 258.2zM1372.8 247.8L1384.3 259.3L1372.8 270.8L1361.3 259.3zM1386.7 249.4L1398.2 260.9L1386.7 272.4L1375.2 260.9zM1400.4 251.8L1411.9 263.3L1400.4 274.8L1388.9 263.3zM1413.8 254.9L1425.3 266.4L1413.8 277.9L1402.3 266.4zM1427.3 257.8L1438.8 269.3L1427.3 280.8L1415.8 269.3zM1441 259.9L1452.5 271.4L1441 282.9L1429.5 271.4zM1454.8 261.9L1466.3 273.4L1454.8 284.9L1443.3 273.4zM1468.6 263.9L1480.1 275.4L1468.6 286.9L1457.1 275.4zM1482.3 266.3L1493.8 277.8L1482.3 289.3L1470.8 277.8zM1495.8 269.1L1507.3 280.6L1495.8 292.1L1484.3 280.6zM1509.4 271.6L1520.9 283.1L1509.4 294.6L1497.9 283.1zM1523.2 273.3L1534.7 284.8L1523.2 296.3L1511.7 284.8zM1537.1 274.7L1548.6 286.2L1537.1 297.7L1525.6 286.2zM1551 276.2L1562.5 287.7L1551 299.2L1539.5 287.7zM1564.9 277.5L1576.4 289L1564.9 300.5L1553.4 289zM1578.8 278.6L1590.3 290.1L1578.8 301.6L1567.3 290.1zM1592.8 279.6L1604.3 291.1L1592.8 302.6L1581.3 291.1zM1606.7 280.5L1618.2 292L1606.7 303.5L1595.2 292zM1620.6 282L1632.1 293.5L1620.6 305L1609.1 293.5zM1634.5 283.6L1646 295.1L1634.5 306.6L1623 295.1zM1648.3 285.1L1659.8 296.6L1648.3 308.1L1636.8 296.6zM1662.2 286.7L1673.7 298.2L1662.2 309.7L1650.7 298.2zM1676 288.4L1687.5 299.9L1676 311.4L1664.5 299.9zM1689.9 290.2L1701.4 301.7L1689.9 313.2L1678.4 301.7zM1703.6 292.2L1715.1 303.7L1703.6 315.2L1692.1 303.7zM1717.4 294.4L1728.9 305.9L1717.4 317.4L1705.9 305.9zM1731.1 296.7L1742.6 308.2L1731.1 319.7L1719.6 308.2zM1744.7 299.1L1756.2 310.6L1744.7 322.1L1733.2 310.6zM1758.4 301.4L1769.9 312.9L1758.4 324.4L1746.9 312.9zM1772.2 303.6L1783.7 315.1L1772.2 326.6L1760.7 315.1zM1785.9 305.5L1797.4 317L1785.9 328.5L1774.4 317zM1799.7 307.3L1811.2 318.8L1799.7 330.3L1788.2 318.8zM1813.5 309.7L1825 321.2L1813.5 332.7L1802 321.2zM1826.5 314.2L1838 325.7L1826.5 337.2L1815 325.7zM1838.6 319.7L1850.1 331.2L1838.6 342.7L1827.1 331.2zM1852 322.8L1863.5 334.3L1852 345.8L1840.5 334.3zM1864.5 328.3L1876 339.8L1864.5 351.3L1853 339.8zM1873.9 336.8L1885.4 348.3L1873.9 359.8L1862.4 348.3zM1881.4 346L1892.9 357.5L1881.4 369L1869.9 357.5zM1888 355.3L1899.5 366.8L1888 378.3L1876.5 366.8zM1894.1 364.7L1905.6 376.2L1894.1 387.7L1882.6 376.2zM1899.1 374.6L1910.6 386.1L1899.1 397.6L1887.6 386.1zM1902.7 384.6L1914.2 396.1L1902.7 407.6L1891.2 396.1zM1904.9 394.7L1916.4 406.2L1904.9 417.7L1893.4 406.2zM1906.4 404.7L1917.9 416.2L1906.4 427.7L1894.9 416.2zM1907.6 414.7L1919.1 426.2L1907.6 437.7L1896.1 426.2zM1908 424.7L1919.5 436.2L1908 447.7L1896.5 436.2zM1908.4 434.7L1919.9 446.2L1908.4 457.7L1896.9 446.2zM1909.8 444.6L1921.3 456.1L1909.8 467.6L1898.3 456.1zM1913 454.3L1924.5 465.8L1913 477.3L1901.5 465.8zM1916.9 464.2L1928.4 475.7L1916.9 487.2L1905.4 475.7zM1919.7 474.3L1931.2 485.8L1919.7 497.3L1908.2 485.8zM1921 484.4L1932.5 495.9L1921 507.4L1909.5 495.9zM1921.3 494.4L1932.8 505.9L1921.3 517.4L1909.8 505.9zM1921.3 504.4L1932.8 515.9L1921.3 527.4L1909.8 515.9zM1921.2 514.4L1932.7 525.9L1921.2 537.4L1909.7 525.9zM1921.4 524.4L1932.9 535.9L1921.4 547.4L1909.9 535.9zM1921.8 534.4L1933.3 545.9L1921.8 557.4L1910.3 545.9zM1922.1 544.4L1933.6 555.9L1922.1 567.4L1910.6 555.9zM1922.5 554.4L1934 565.9L1922.5 577.4L1911 565.9zM1923.1 564.4L1934.6 575.9L1923.1 587.4L1911.6 575.9zM1924.2 574.3L1935.7 585.8L1924.2 597.3L1912.7 585.8zM1927 584L1938.5 595.5L1927 607L1915.5 595.5zM1929.8 594.1L1941.3 605.6L1929.8 617.1L1918.3 605.6zM1930.6 604.2L1942.1 615.7L1930.6 627.2L1919.1 615.7zM1930.9 614.2L1942.4 625.7L1930.9 637.2L1919.4 625.7zM1930.9 624.2L1942.4 635.7L1930.9 647.2L1919.4 635.7zM1931 634.2L1942.5 645.7L1931 657.2L1919.5 645.7zM1931 644.2L1942.5 655.7L1931 667.2L1919.5 655.7zM1931 654.2L1942.5 665.7L1931 677.2L1919.5 665.7zM1931 664.2L1942.5 675.7L1931 687.2L1919.5 675.7zM1931 674.2L1942.5 685.7L1931 697.2L1919.5 685.7zM1930.9 684.2L1942.4 695.7L1930.9 707.2L1919.4 695.7zM1931 694.2L1942.5 705.7L1931 717.2L1919.5 705.7zM1931.1 704.2L1942.6 715.7L1931.1 727.2L1919.6 715.7zM1931.3 714.2L1942.8 725.7L1931.3 737.2L1919.8 725.7zM1931.5 724.2L1943 735.7L1931.5 747.2L1920 735.7zM1931.7 734.2L1943.2 745.7L1931.7 757.2L1920.2 745.7zM1931.9 744.2L1943.4 755.7L1931.9 767.2L1920.4 755.7zM1932.1 754.2L1943.6 765.7L1932.1 777.2L1920.6 765.7zM1932.2 764.2L1943.7 775.7L1932.2 787.2L1920.7 775.7zM1932.3 774.2L1943.8 785.7L1932.3 797.2L1920.8 785.7zM1932.3 784.2L1943.8 795.7L1932.3 807.2L1920.8 795.7zM1932.3 794.2L1943.8 805.7L1932.3 817.2L1920.8 805.7zM1932.4 804.2L1943.9 815.7L1932.4 827.2L1920.9 815.7zM1932.7 814.2L1944.2 825.7L1932.7 837.2L1921.2 825.7zM1933.2 824.2L1944.7 835.7L1933.2 847.2L1921.7 835.7zM1934.2 834.1L1945.7 845.6L1934.2 857.1L1922.7 845.6zM1936.6 843.9L1948.1 855.4L1936.6 866.9L1925.1 855.4zM1939.3 853.8L1950.8 865.3L1939.3 876.8L1927.8 865.3zM1940.6 863.9L1952.1 875.4L1940.6 886.9L1929.1 875.4zM1941 873.9L1952.5 885.4L1941 896.9L1929.5 885.4zM1941.1 883.9L1952.6 895.4L1941.1 906.9L1929.6 895.4zM1941 893.9L1952.5 905.4L1941 916.9L1929.5 905.4zM1940.9 903.9L1952.4 915.4L1940.9 926.9L1929.4 915.4zM1940.7 913.9L1952.2 925.4L1940.7 936.9L1929.2 925.4zM1940.4 923.9L1951.9 935.4L1940.4 946.9L1928.9 935.4zM1940.2 933.9L1951.7 945.4L1940.2 956.9L1928.7 945.4zM1939.8 943.9L1951.3 955.4L1939.8 966.9L1928.3 955.4zM1939.3 953.9L1950.8 965.4L1939.3 976.9L1927.8 965.4zM1938.9 963.9L1950.4 975.4L1938.9 986.9L1927.4 975.4zM1938.5 973.9L1950 985.4L1938.5 996.9L1927 985.4zM1938.2 983.9L1949.7 995.4L1938.2 1006.9L1926.7 995.4zM1938.1 993.9L1949.6 1005.4L1938.1 1016.9L1926.6 1005.4zM1942.4 1002.3L1953.9 1013.8L1942.4 1025.3L1930.9 1013.8zM1947 1011.8L1958.5 1023.3L1947 1034.8L1935.5 1023.3zM1951.3 1021.7L1962.8 1033.2L1951.3 1044.7L1939.8 1033.2zM1954.3 1031.7L1965.8 1043.2L1954.3 1054.7L1942.8 1043.2zM1955.6 1041.8L1967.1 1053.3L1955.6 1064.8L1944.1 1053.3zM1955.5 1051.8L1967 1063.3L1955.5 1074.8L1944 1063.3zM1955 1061.8L1966.5 1073.3L1955 1084.8L1943.5 1073.3zM1954.6 1071.8L1966.1 1083.3L1954.6 1094.8L1943.1 1083.3zM1954.8 1081.8L1966.3 1093.3L1954.8 1104.8L1943.3 1093.3zM1956 1091.8L1967.5 1103.3L1956 1114.8L1944.5 1103.3zM1957.6 1101.8L1969.1 1113.3L1957.6 1124.8L1946.1 1113.3zM1959.4 1111.7L1970.9 1123.2L1959.4 1134.7L1947.9 1123.2zM1961 1121.7L1972.5 1133.2L1961 1144.7L1949.5 1133.2zM1962.1 1131.7L1973.6 1143.2L1962.1 1154.7L1950.6 1143.2zM1962.7 1141.7L1974.2 1153.2L1962.7 1164.7L1951.2 1153.2zM1963.1 1151.7L1974.6 1163.2L1963.1 1174.7L1951.6 1163.2zM1963.4 1161.7L1974.9 1173.2L1963.4 1184.7L1951.9 1173.2zM1964 1171.7L1975.5 1183.2L1964 1194.7L1952.5 1183.2zM1964.8 1181.7L1976.3 1193.2L1964.8 1204.7L1953.3 1193.2zM1965.9 1191.7L1977.4 1203.2L1965.9 1214.7L1954.4 1203.2zM1967.2 1201.7L1978.7 1213.2L1967.2 1224.7L1955.7 1213.2zM1968.4 1211.6L1979.9 1223.1L1968.4 1234.6L1956.9 1223.1zM1969.7 1221.6L1981.2 1233.1L1969.7 1244.6L1958.2 1233.1zM1970.9 1231.6L1982.4 1243.1L1970.9 1254.6L1959.4 1243.1zM1971.8 1241.6L1983.3 1253.1L1971.8 1264.6L1960.3 1253.1zM1972.2 1251.6L1983.7 1263.1L1972.2 1274.6L1960.7 1263.1zM1972.5 1261.6L1984 1273.1L1972.5 1284.6L1961 1273.1zM1973.8 1271.5L1985.3 1283L1973.8 1294.5L1962.3 1283zM1977.7 1280.8L1989.2 1292.3L1977.7 1303.8L1966.2 1292.3zM1983.5 1290.3L1995 1301.8L1983.5 1313.3L1972 1301.8zM1987.1 1300.6L1998.6 1312.1L1987.1 1323.6L1975.6 1312.1zM1989.3 1310.7L2000.8 1322.2L1989.3 1333.7L1977.8 1322.2zM1991.1 1320.7L2002.6 1332.2L1991.1 1343.7L1979.6 1332.2zM1992.8 1330.6L2004.3 1342.1L1992.8 1353.6L1981.3 1342.1zM1993.2 1340.7L2004.7 1352.2L1993.2 1363.7L1981.7 1352.2zM1995.7 1350.3L2007.2 1361.8L1995.7 1373.3L1984.2 1361.8zM2000.2 1359.9L2011.7 1371.4L2000.2 1382.9L1988.7 1371.4zM2005.8 1369.1L2017.3 1380.6L2005.8 1392.1L1994.3 1380.6zM2013 1378L2024.5 1389.5L2013 1401L2001.5 1389.5zM2021 1386.6L2032.5 1398.1L2021 1409.6L2009.5 1398.1zM2029.5 1395.1L2041 1406.6L2029.5 1418.1L2018 1406.6zM2038.6 1403.1L2050.1 1414.6L2038.6 1426.1L2027.1 1414.6zM2048.2 1411L2059.7 1422.5L2048.2 1434L2036.7 1422.5zM2057.7 1418.8L2069.2 1430.3L2057.7 1441.8L2046.2 1430.3zM2067.6 1426.4L2079.1 1437.9L2067.6 1449.4L2056.1 1437.9zM2077.8 1433.7L2089.3 1445.2L2077.8 1456.7L2066.3 1445.2zM2088.4 1440.8L2099.9 1452.3L2088.4 1463.8L2076.9 1452.3zM2099.8 1446.6L2111.3 1458.1L2099.8 1469.6L2088.3 1458.1zM2113 1449.9L2124.5 1461.4L2113 1472.9L2101.5 1461.4zM2125.8 1454.6L2137.3 1466.1L2125.8 1477.6L2114.3 1466.1zM2138.3 1459.6L2149.8 1471.1L2138.3 1482.6L2126.8 1471.1zM2150.8 1464.5L2162.3 1476L2150.8 1487.5L2139.3 1476zM2163.8 1468.7L2175.3 1480.2L2163.8 1491.7L2152.3 1480.2zM2177.1 1471.8L2188.6 1483.3L2177.1 1494.8L2165.6 1483.3zM2190.8 1473.6L2202.3 1485.1L2190.8 1496.6L2179.3 1485.1zM2204.8 1474.6L2216.3 1486.1L2204.8 1497.6L2193.3 1486.1zM2218.7 1475.5L2230.2 1487L2218.7 1498.5L2207.2 1487zM2232.6 1476.7L2244.1 1488.2L2232.6 1499.7L2221.1 1488.2zM2246.6 1477.9L2258.1 1489.4L2246.6 1500.9L2235.1 1489.4zM2260.5 1479.2L2272 1490.7L2260.5 1502.2L2249 1490.7zM2274.3 1480.7L2285.8 1492.2L2274.3 1503.7L2262.8 1492.2zM2288.2 1482.6L2299.7 1494.1L2288.2 1505.6L2276.7 1494.1zM2301.8 1485.1L2313.3 1496.6L2301.8 1508.1L2290.3 1496.6zM2315.5 1487.6L2327 1499.1L2315.5 1510.6L2304 1499.1zM2329.2 1489.9L2340.7 1501.4L2329.2 1512.9L2317.7 1501.4zM2343 1491.2L2354.5 1502.7L2343 1514.2L2331.5 1502.7zM2357 1491.6L2368.5 1503.1L2357 1514.6L2345.5 1503.1zM2371 1491.6L2382.5 1503.1L2371 1514.6L2359.5 1503.1z"/>
<path fill="#8000FF" d="M338.6 212.5L357.6 202V223zM465.6 219.5L484.6 209V230zM473.1 220.8L492.1 210.3V231.3zM495 222L514 211.5V232.5zM516.9 223.1L535.9 212.6V233.6zM538.8 224.2L557.8 213.7V234.7zM560.7 225.4L579.7 214.9V235.9zM582.5 226.6L601.5 216.1V237.1zM604.4 227.9L623.4 217.4V238.4zM626.2 229.4L645.2 218.9V239.9zM648 230.9L667 220.4V241.4zM669.8 232.5L688.8 222V243zM691.6 233.9L710.6 223.4V244.4zM713.5 235.3L732.5 224.8V245.8zM735.3 236.7L754.3 226.2V247.2zM757.2 238L776.2 227.5V248.5zM779 239.2L798 228.7V249.7zM800.9 240.2L819.9 229.7V250.7zM822.9 241L841.9 230.5V251.5zM844.8 241.7L863.8 231.2V252.2zM866.8 242.7L885.8 232.2V253.2zM888.6 244.4L907.6 233.9V254.9zM910.3 245.8L929.3 235.3V256.3zM932.3 246.7L951.3 236.2V257.2zM954.1 248.1L973.1 237.6V258.6zM976 249.6L995 239.1V260.1zM997.7 251.3L1016.7 240.8V261.8zM1019.4 253.4L1038.4 242.9V263.9zM1040.9 255.9L1059.9 245.4V266.4zM1062.2 258.7L1081.2 248.2V269.2zM1083.9 260.2L1102.9 249.7V270.7zM1105.8 261.1L1124.8 250.6V271.6zM1127.7 261.8L1146.7 251.3V272.3zM1149.7 262.5L1168.7 252V273zM1171.6 263.4L1190.6 252.9V273.9zM1193.6 264.2L1212.6 253.7V274.7zM1215.5 265.3L1234.5 254.8V275.8zM1237.2 267.9L1256.2 257.4V278.4zM1258.1 270.6L1277.1 260.1V281.1zM1280 271.9L1299 261.4V282.4zM1301.6 274.1L1320.6 263.6V284.6zM1323.3 275.7L1342.3 265.2V286.2zM1344.5 279.5L1363.5 269V290zM1364.3 284.6L1383.3 274.1V295.1zM1383.6 290.2L1402.6 279.7V300.7zM1402.2 295.9L1421.2 285.4V306.4zM1421.9 300.2L1440.9 289.7V310.7zM1442.5 304.1L1461.5 293.6V314.6zM1462.9 308.4L1481.9 297.9V318.9zM1483.4 311.9L1502.4 301.4V322.4zM1504.9 313.7L1523.9 303.2V324.2zM1526.6 316.2L1545.6 305.7V326.7zM1546.3 322.3L1565.3 311.8V332.8zM1564.6 328.3L1583.6 317.8V338.8zM1581.7 336.1L1600.7 325.6V346.6zM1596.6 343.4L1615.6 332.9V353.9zM1615.1 348.3L1634.1 337.8V358.8zM1632.3 356.8L1651.3 346.3V367.3zM1646.6 364.6L1665.6 354.1V375.1zM1661.2 372.6L1680.2 362.1V383.1zM1675.6 380.7L1694.6 370.2V391.2zM1689.5 389L1708.5 378.5V399.5zM1702.9 397.5L1721.9 387V408zM1715.3 406.2L1734.3 395.7V416.7zM1726.9 415.1L1745.9 404.6V425.6zM1737.8 424.4L1756.8 413.9V434.9zM1747.2 434.2L1766.2 423.7V444.7zM1755.1 444.3L1774.1 433.8V454.8zM1762.1 454.5L1781.1 444V465zM1768.5 464.9L1787.5 454.4V475.4zM1774.3 475.6L1793.3 465.1V486.1zM1779.4 486.6L1798.4 476.1V497.1zM1783.9 497.8L1802.9 487.3V508.3zM1787.9 509.1L1806.9 498.6V519.6zM1791.2 520.6L1810.2 510.1V531.1zM1793.7 532.4L1812.7 521.9V542.9zM1795.7 544.2L1814.7 533.7V554.7zM1797.1 556.1L1816.1 545.6V566.6zM1798.3 568L1817.3 557.5V578.5zM1799.5 580L1818.5 569.5V590.5zM1800.8 591.9L1819.8 581.4V602.4zM1802 603.9L1821 593.4V614.4zM1803.3 615.8L1822.3 605.3V626.3zM1804.5 627.7L1823.5 617.2V638.2zM1805.7 639.7L1824.7 629.2V650.2zM1806.9 651.6L1825.9 641.1V662.1zM1808.2 663.5L1827.2 653V674zM1809.4 675.5L1828.4 665V686zM1810.6 687.4L1829.6 676.9V697.9zM1811.8 699.4L1830.8 688.9V709.9zM1812.8 711.3L1831.8 700.8V721.8zM1813.6 723.3L1832.6 712.8V733.8zM1814 735.3L1833 724.8V745.8zM1814.3 747.3L1833.3 736.8V757.8zM1814.4 759.3L1833.4 748.8V769.8zM1814.7 771.3L1833.7 760.8V781.8zM1815.2 783.3L1834.2 772.8V793.8zM1816.4 795.2L1835.4 784.7V805.7zM1818.3 807L1837.3 796.5V817.5zM1821 818.7L1840 808.2V829.2zM1823.8 830.4L1842.8 819.9V840.9zM1825.7 842.2L1844.7 831.7V852.7zM1826.7 854.2L1845.7 843.7V864.7zM1827.4 866.2L1846.4 855.7V876.7zM1829.2 878L1848.2 867.5V888.5zM1836.3 887L1855.3 876.5V897.5zM1849.2 899L1868.2 888.5V909.5zM1850.3 911L1869.3 900.5V921.5zM1850.2 923L1869.2 912.5V933.5zM1849.7 934.9L1868.7 924.4V945.4zM1849.2 946.9L1868.2 936.4V957.4zM1849.1 958.9L1868.1 948.4V969.4zM1849.7 970.9L1868.7 960.4V981.4zM1850.5 982.9L1869.5 972.4V993.4zM1851.3 994.9L1870.3 984.4V1005.4zM1851.8 1006.9L1870.8 996.4V1017.4zM1851.5 1018.8L1870.5 1008.3V1029.3zM1850.9 1030.8L1869.9 1020.3V1041.3zM1850.1 1042.8L1869.1 1032.3V1053.3zM1849.4 1054.8L1868.4 1044.3V1065.3zM1848.9 1066.8L1867.9 1056.3V1077.3zM1849 1078.8L1868 1068.3V1089.3zM1850 1090.7L1869 1080.2V1101.2zM1852 1102.5L1871 1092V1113zM1854.6 1114.3L1873.6 1103.8V1124.8zM1857.8 1125.8L1876.8 1115.3V1136.3zM1861.5 1137.3L1880.5 1126.8V1147.8zM1866.1 1148.4L1885.1 1137.9V1158.9zM1870.9 1159.4L1889.9 1148.9V1169.9zM1875.4 1170.5L1894.4 1160V1181zM1880.3 1181.6L1899.3 1171.1V1192.1zM1883.7 1193.1L1902.7 1182.6V1203.6zM1885 1205L1904 1194.5V1215.5zM1885.4 1217L1904.4 1206.5V1227.5zM1885.2 1229L1904.2 1218.5V1239.5zM1884.9 1241L1903.9 1230.5V1251.5zM1884.6 1253L1903.6 1242.5V1263.5zM1884.6 1265L1903.6 1254.5V1275.5zM1885.3 1276.9L1904.3 1266.4V1287.4zM1887.3 1288.7L1906.3 1278.2V1299.2zM1890.4 1300.3L1909.4 1289.8V1310.8zM1892.8 1312.1L1911.8 1301.6V1322.6zM1894.3 1324L1913.3 1313.5V1334.5zM1896.7 1335.7L1915.7 1325.2V1346.2zM1900.7 1347.1L1919.7 1336.6V1357.6zM1905.2 1358.2L1924.2 1347.7V1368.7zM1909.9 1369.3L1928.9 1358.8V1379.8zM1914.6 1380.3L1933.6 1369.8V1390.8zM1921.9 1389.9L1940.9 1379.4V1400.4zM1932.2 1398L1951.2 1387.5V1408.5zM1946.1 1404.6L1965.1 1394.1V1415.1zM1965.3 1407.1L1984.3 1396.6V1417.6zM1985.7 1412.1L2004.7 1401.6V1422.6zM2004.9 1417.6L2023.9 1407.1V1428.1zM2023.9 1423.2L2042.9 1412.7V1433.7zM2043 1428.8L2062 1418.3V1439.3zM2061.6 1434.9L2080.6 1424.4V1445.4zM2079 1442.3L2098 1431.8V1452.8zM2095.8 1448.9L2114.8 1438.4V1459.4zM2113 1455.6L2132 1445.1V1466.1zM2130.7 1462L2149.7 1451.5V1472.5zM2149 1467.4L2168 1456.9V1477.9zM2168.7 1471.7L2187.7 1461.2V1482.2zM2189.2 1475.3L2208.2 1464.8V1485.8zM2210.2 1478.6L2229.2 1468.1V1489.1zM2231.4 1481.5L2250.4 1471V1492zM2252.8 1483.9L2271.8 1473.4V1494.4zM2274.4 1485.9L2293.4 1475.4V1496.4zM2296.1 1487.2L2315.1 1476.7V1497.7zM2318.1 1487.4L2337.1 1476.9V1497.9zM2340 1486.6L2359 1476.1V1497.1zM2361.9 1485.4L2380.9 1474.9V1495.9z"/>
<path fill="#E5A82A" d="M358.9 212.5L340.9 202.5V222.5zM513.9 215.4L495.9 205.4V225.4zM537.7 217.4L519.7 207.4V227.4zM561.6 219.2L543.6 209.2V229.2zM585.5 220.9L567.5 210.9V230.9zM609.4 222.4L591.4 212.4V232.4zM633.3 223.6L615.3 213.6V233.6zM657.3 224.7L639.3 214.7V234.7zM681.2 225.5L663.2 215.5V235.5zM705.2 226.3L687.2 216.3V236.3zM729.2 227.1L711.2 217.1V237.1zM753.1 227.9L735.1 217.9V237.9zM777.1 228.8L759.1 218.8V238.8zM801.1 229.8L783.1 219.8V239.8zM825 230.7L807 220.7V240.7zM849 231.5L831 221.5V241.5zM873 232.1L855 222.1V242.1zM897 232.5L879 222.5V242.5zM921 232.8L903 222.8V242.8zM945 233.1L927 223.1V243.1zM969 233.3L951 223.3V243.3zM993 233.6L975 223.6V243.6zM1017 233.9L999 223.9V243.9zM1041 234.6L1023 224.6V244.6zM1064.8 236.3L1046.8 226.3V246.3zM1088.8 237.2L1070.8 227.2V247.2zM1112.7 237.9L1094.7 227.9V247.9zM1136.7 239.1L1118.7 229.1V249.1zM1160.5 241.2L1142.5 231.2V251.2zM1184.3 243.7L1166.3 233.7V253.7zM1207.9 246.9L1189.9 236.9V256.9zM1231.4 250.5L1213.4 240.5V260.5zM1254.8 254.3L1236.8 244.3V264.3zM1278.1 258.5L1260.1 248.5V268.5zM1301.5 261.8L1283.5 251.8V271.8zM1325.1 265.3L1307.1 255.3V275.3zM1348.4 269.2L1330.4 259.2V279.2zM1371.8 273.2L1353.8 263.2V283.2zM1395.1 277.4L1377.1 267.4V287.4zM1418 283L1400 273V293zM1439.8 290.6L1421.8 280.6V300.6zM1461.4 297.5L1443.4 287.5V307.5zM1483.9 302.6L1465.9 292.6V312.6zM1506.8 308L1488.8 298V318zM1528.4 315.9L1510.4 305.9V325.9zM1544.8 329.5L1526.8 319.5V339.5zM1563.2 337.8L1545.2 327.8V347.8zM1581 350.8L1563 340.8V360.8zM1596.6 360.7L1578.6 350.7V370.7zM1615 372.5L1597 362.5V382.5zM1631.8 382.8L1613.8 372.8V392.8zM1647.8 395.6L1629.8 385.6V405.6zM1662.2 408.4L1644.2 398.4V418.4zM1674.8 422.2L1656.8 412.2V432.2zM1683 436.2L1665 426.2V446.2zM1688.8 449.5L1670.8 439.5V459.5zM1694.6 462.5L1676.6 452.5V472.5zM1700.8 475.7L1682.8 465.7V485.7zM1706.9 488.9L1688.9 478.9V498.9zM1713.4 501.9L1695.4 491.9V511.9zM1722.3 514.6L1704.3 504.6V524.6zM1727.3 529.9L1709.3 519.9V539.9zM1726.8 542.4L1708.8 532.4V552.4zM1726.3 554.9L1708.3 544.9V564.9zM1728.3 567.3L1710.3 557.3V577.3zM1732.4 580L1714.4 570V590zM1735.7 593.2L1717.7 583.2V603.2zM1737.4 606L1719.4 596V616zM1738.5 618.6L1720.5 608.6V628.6zM1739.2 631.1L1721.2 621.1V641.1zM1739.6 643.6L1721.6 633.6V653.6zM1739.4 656.1L1721.4 646.1V666.1zM1738.2 668.6L1720.2 658.6V678.6zM1736.6 681.2L1718.6 671.2V691.2zM1736.1 693.8L1718.1 683.8V703.8zM1744.6 700.7L1726.6 690.7V710.7zM1747.8 718.3L1729.8 708.3V728.3zM1746.8 730.8L1728.8 720.8V740.8zM1745.5 743.4L1727.5 733.4V753.4zM1744.1 755.9L1726.1 745.9V765.9zM1743.1 768.5L1725.1 758.5V778.5zM1742.1 781L1724.1 771V791zM1741.1 793.5L1723.1 783.5V803.5zM1740.1 806.1L1722.1 796.1V816.1zM1739.3 818.6L1721.3 808.6V828.6zM1738.7 831.1L1720.7 821.1V841.1zM1738.5 843.6L1720.5 833.6V853.6zM1738.9 856.1L1720.9 846.1V866.1zM1739.5 868.6L1721.5 858.6V878.6zM1740.2 881.2L1722.2 871.2V891.2zM1740.8 893.7L1722.8 883.7V903.7zM1740.9 906.2L1722.9 896.2V916.2zM1740.2 918.7L1722.2 908.7V928.7zM1738.4 931.1L1720.4 921.1V941.1zM1735.9 943.7L1717.9 933.7V953.7zM1733.8 956.4L1715.8 946.4V966.4zM1732.4 969.1L1714.4 959.1V979.1zM1731.4 981.7L1713.4 971.7V991.7zM1731.3 994.2L1713.3 984.2V1004.2zM1731.6 1006.7L1713.6 996.7V1016.7zM1732.2 1019.2L1714.2 1009.2V1029.2zM1733 1031.7L1715 1021.7V1041.7zM1733.9 1044.2L1715.9 1034.2V1054.2zM1735 1056.8L1717 1046.8V1066.8zM1736.1 1069.3L1718.1 1059.3V1079.3zM1737.8 1081.8L1719.8 1071.8V1091.8zM1739.9 1094.4L1721.9 1084.4V1104.4zM1742 1107.1L1724 1097.1V1117.1zM1743.5 1119.8L1725.5 1109.8V1129.8zM1744.6 1132.3L1726.6 1122.3V1142.3zM1745.6 1144.9L1727.6 1134.9V1154.9zM1746.4 1157.4L1728.4 1147.4V1167.4zM1747.1 1169.9L1729.1 1159.9V1179.9zM1747.7 1182.5L1729.7 1172.5V1192.5zM1748.1 1195L1730.1 1185V1205zM1748.2 1207.5L1730.2 1197.5V1217.5zM1748.2 1220L1730.2 1210V1230zM1748 1232.5L1730 1222.5V1242.5zM1747.9 1245L1729.9 1235V1255zM1747.9 1257.5L1729.9 1247.5V1267.5zM1747.9 1270L1729.9 1260V1280zM1747.9 1282.5L1729.9 1272.5V1292.5zM1747.8 1295L1729.8 1285V1305zM1748 1307.5L1730 1297.5V1317.5zM1748.6 1320L1730.6 1310V1330zM1751.2 1332.2L1733.2 1322.2V1342.2zM1759.2 1343.4L1741.2 1333.4V1353.4zM1768.1 1355.8L1750.1 1345.8V1365.8zM1781.3 1367.6L1763.3 1357.6V1377.6zM1800.1 1376.1L1782.1 1366.1V1386.1zM1820.4 1385.8L1802.4 1375.8V1395.8zM1839.2 1394.5L1821.2 1384.5V1404.5zM1861.3 1400.3L1843.3 1390.3V1410.3zM1884.1 1405.7L1866.1 1395.7V1415.7zM1906.7 1411L1888.7 1401V1421zM1930.1 1414.4L1912.1 1404.4V1424.4zM1953.2 1419.8L1935.2 1409.8V1429.8zM1974.8 1427.4L1956.8 1417.4V1437.4zM1996.4 1434.3L1978.4 1424.3V1444.3zM2018.6 1440.5L2000.6 1430.5V1450.5zM2041.4 1444.9L2023.4 1434.9V1454.9zM2065 1448.1L2047 1438.1V1458.1zM2088.3 1452.5L2070.3 1442.5V1462.5zM2111.3 1456.8L2093.3 1446.8V1466.8zM2135 1458.9L2117 1448.9V1468.9zM2158.9 1461.2L2140.9 1451.2V1471.2zM2182.6 1463.7L2164.6 1453.7V1473.7zM2206.4 1466.2L2188.4 1456.2V1476.2zM2230.1 1468.4L2212.1 1458.4V1478.4zM2253.9 1471L2235.9 1461V1481zM2277.4 1474.7L2259.4 1464.7V1484.7zM2300.7 1478.7L2282.7 1468.7V1488.7zM2324.1 1482.5L2306.1 1472.5V1492.5zM2347.5 1486.1L2329.5 1476.1V1496.1zM2371 1489.8L2353 1479.8V1499.8z"/>
</g>
<rect x="271.9" y="1165.7" width="551.5" height="577.3" fill="#fff" stroke="#333" stroke-width="2"/>
<g style="font-family:'Liberation Serif','Times New Roman',serif;font-weight:bold" font-size="64.5" fill="#000">
<text x="441" y="1233.0">NCC</text>
<text x="441" y="1314.3">NBR</text>
<text x="441" y="1395.6">NBR- NCC 1</text>
<text x="441" y="1476.9">NBR- NCC 2</text>
<text x="441" y="1558.2">NBR- NCC 3</text>
<text x="441" y="1639.5">NBR- NCC 4</text>
<text x="441" y="1720.8">NBR- NCC 5</text>
</g>
<path fill="#FFB1DD" d="M344.5 1203.5h17v17h-17z"/>
<circle cx="353" cy="1293.3" r="9.5" fill="#000"/>
<path fill="#FF0000" d="M353 1363.6L364 1383.6H342z"/>
<path fill="#0000FF" d="M353 1466.9L364 1446.9H342z"/>
<path fill="#008A5A" d="M353 1525.7L364.5 1537.2L353 1548.7L341.5 1537.2z"/>
<path fill="#8000FF" d="M339 1618.5L359 1607.5V1629.5z"/>
<path fill="#E5A82A" d="M366.4 1699.8L347.4 1689.3V1710.3z"/>
<g stroke="#2a2a2a" stroke-width="2.5" fill="none">
<line x1="913.3" y1="1102.6000000000001" x2="913.3" y2="1670.9"/>
<line x1="902.8" y1="1660.4" x2="1697.65" y2="1660.4"/>
<line x1="1000.4" y1="1660.4" x2="1000.4" y2="1665.4"/>
<line x1="1087.6" y1="1660.4" x2="1087.6" y2="1670.9"/>
<line x1="1174.8" y1="1660.4" x2="1174.8" y2="1665.4"/>
<line x1="1261.9" y1="1660.4" x2="1261.9" y2="1670.9"/>
<line x1="1349.0" y1="1660.4" x2="1349.0" y2="1665.4"/>
<line x1="1436.2" y1="1660.4" x2="1436.2" y2="1670.9"/>
<line x1="1523.3" y1="1660.4" x2="1523.3" y2="1665.4"/>
<line x1="1610.5" y1="1660.4" x2="1610.5" y2="1670.9"/>
<line x1="1697.7" y1="1660.4" x2="1697.7" y2="1665.4"/>
<line x1="908.3" y1="1474.9" x2="913.3" y2="1474.9"/>
<line x1="902.8" y1="1289.4" x2="913.3" y2="1289.4"/>
<line x1="907.8" y1="1103.9" x2="913.3" y2="1103.9"/>
</g>
<g style="font-family:'Liberation Serif','Times New Roman',serif;font-weight:bold" font-size="48" fill="#000">
<text x="913.3" y="1714" text-anchor="middle">0</text>
<text x="1087.6" y="1714" text-anchor="middle">100</text>
<text x="1261.9" y="1714" text-anchor="middle">200</text>
<text x="1436.2" y="1714" text-anchor="middle">300</text>
<text x="1610.5" y="1714" text-anchor="middle">400</text>
<text x="896.8" y="1305" text-anchor="end">100</text>
<text x="896.8" y="1674.5" text-anchor="end">80</text>
</g>
<text x="1305.2" y="1743.3" text-anchor="middle" font-size="33" style="font-family:'Liberation Serif','Times New Roman',serif;font-weight:bold">Temperature [°C]</text>
<text transform="translate(890.5,1467.7) rotate(-90)" text-anchor="middle" font-size="33" style="font-family:'Liberation Serif','Times New Roman',serif;font-weight:bold">Weight [%]</text>
<g clip-path="url(#ic)">
<path fill="#FF9FD5" d="M926.4 1296h5.2v5.2h-5.2zM930.7 1297.2h5.2v5.2h-5.2zM935.1 1298.5h5.2v5.2h-5.2zM939.4 1299.7h5.2v5.2h-5.2zM943.7 1300.9h5.2v5.2h-5.2zM948 1302.1h5.2v5.2h-5.2zM952.4 1303.4h5.2v5.2h-5.2zM956.7 1304.6h5.2v5.2h-5.2zM961 1305.8h5.2v5.2h-5.2zM965.4 1307h5.2v5.2h-5.2zM969.7 1308.3h5.2v5.2h-5.2zM974 1309.5h5.2v5.2h-5.2zM978.4 1310.7h5.2v5.2h-5.2zM982.7 1311.9h5.2v5.2h-5.2zM987.1 1312.8h5.2v5.2h-5.2zM991.5 1313.5h5.2v5.2h-5.2zM996 1314.3h5.2v5.2h-5.2zM1000.4 1315h5.2v5.2h-5.2zM1004.9 1315.7h5.2v5.2h-5.2zM1009.3 1316.5h5.2v5.2h-5.2zM1013.7 1317.2h5.2v5.2h-5.2zM1018.2 1318h5.2v5.2h-5.2zM1022.6 1318.7h5.2v5.2h-5.2zM1027.1 1319.4h5.2v5.2h-5.2zM1031.5 1320.2h5.2v5.2h-5.2zM1035.9 1320.9h5.2v5.2h-5.2zM1040.4 1321.6h5.2v5.2h-5.2zM1044.8 1322.5h5.2v5.2h-5.2zM1049.2 1323.4h5.2v5.2h-5.2zM1053.6 1324.3h5.2v5.2h-5.2zM1058 1325.2h5.2v5.2h-5.2zM1062.4 1326h5.2v5.2h-5.2zM1066.9 1326.9h5.2v5.2h-5.2zM1071.3 1327.8h5.2v5.2h-5.2zM1075.7 1328.7h5.2v5.2h-5.2zM1080.1 1329.6h5.2v5.2h-5.2zM1084.5 1330.4h5.2v5.2h-5.2zM1088.9 1331.3h5.2v5.2h-5.2zM1093.3 1332.2h5.2v5.2h-5.2zM1097.7 1333.1h5.2v5.2h-5.2zM1102.1 1334.2h5.2v5.2h-5.2zM1106.4 1335.4h5.2v5.2h-5.2zM1110.8 1336.5h5.2v5.2h-5.2zM1115.1 1337.7h5.2v5.2h-5.2zM1119.5 1338.9h5.2v5.2h-5.2zM1123.8 1340h5.2v5.2h-5.2zM1128 1341.5h5.2v5.2h-5.2zM1132.1 1343.5h5.2v5.2h-5.2zM1136.1 1345.5h5.2v5.2h-5.2zM1140.1 1347.7h5.2v5.2h-5.2zM1143.3 1350.8h5.2v5.2h-5.2zM1146.5 1354h5.2v5.2h-5.2zM1149.6 1357.2h5.2v5.2h-5.2zM1155.1 1365h5.2v5.2h-5.2zM1160.5 1372.8h5.2v5.2h-5.2zM1165.7 1380.7h5.2v5.2h-5.2zM1171.6 1388.1h5.2v5.2h-5.2zM1177.4 1395.6h5.2v5.2h-5.2zM1181.8 1404h5.2v5.2h-5.2zM1184.4 1413.1h5.2v5.2h-5.2zM1185.9 1422.4h5.2v5.2h-5.2zM1188 1431.7h5.2v5.2h-5.2zM1190.1 1441h5.2v5.2h-5.2zM1192.3 1455.2h5.2v5.2h-5.2zM1192.3 1471.1h5.2v5.2h-5.2zM1194.3 1487.6h5.2v5.2h-5.2zM1196.3 1505.4h5.2v5.2h-5.2zM1199.6 1525.2h5.2v5.2h-5.2zM1200.9 1545.1h5.2v5.2h-5.2zM1200.9 1566.2h5.2v5.2h-5.2zM1208.2 1588h5.2v5.2h-5.2zM1208.2 1611.1h5.2v5.2h-5.2zM1215.4 1634.9h5.2v5.2h-5.2zM1217.4 1656.7h5.2v5.2h-5.2z"/>
<polyline points="961,1293.5 966.2,1293.8 973.2,1294.2 981.6,1294.7 991,1295.3 1000.9,1295.9 1011,1296.7 1021.5,1297.6 1032.7,1298.7 1044.6,1299.9 1056.7,1301.1 1069.1,1302.3 1081.4,1303.3 1093.8,1304.2 1106.4,1305 1119.1,1305.8 1132,1306.5 1144.8,1307.2 1157.6,1308 1170.4,1308.8 1183.4,1309.6 1196.3,1310.4 1209.1,1311.2 1221.7,1312 1233.8,1312.9 1245.3,1313.7 1256.2,1314.4 1266.9,1315.1 1277.6,1316 1288.5,1317.1 1300,1318.6 1312.1,1320.4 1324.7,1322.4 1337.5,1324.6 1350.4,1327.2 1363.4,1330.3 1376.2,1333.8 1389.3,1338.1 1403,1343.3 1416.7,1348.8 1429.8,1354.4 1441.9,1359.7 1452.4,1364.3 1461,1368.1 1467.9,1371.3 1473.8,1374.2 1479.2,1377 1484.6,1379.9 1490.5,1383.3 1497,1387 1503.6,1390.9 1510.2,1395 1516.6,1399.2 1522.8,1403.6 1528.6,1408.1 1534,1412.8 1539.1,1417.8 1543.9,1422.9 1548.5,1428.2 1552.9,1433.4 1557.1,1438.6 1561.1,1443.8 1564.9,1449.1 1568.5,1454.4 1571.9,1459.7 1575.1,1464.9 1578.1,1470 1580.8,1474.9 1583.1,1479.8 1585.2,1484.5 1587.3,1489.2 1589.5,1493.9 1591.9,1498.7 1594.6,1503.5 1597.6,1508.3 1600.6,1513 1603.7,1517.8 1606.5,1522.6 1609.1,1527.4 1611.3,1532.2 1613.4,1537 1615.2,1541.8 1617,1546.6 1618.7,1551.4 1620.6,1556.2 1622.5,1561 1624.5,1565.8 1626.5,1570.6 1628.4,1575.3 1630.3,1580.1 1632.1,1584.9 1633.8,1589.6 1635.4,1594.3 1636.9,1598.9 1638.4,1603.6 1639.9,1608.5 1641.3,1613.6 1642.8,1619.3 1644.3,1625.5 1645.8,1631.8 1647.2,1638 1648.4,1643.5 1649.3,1648 1649.9,1651.5 1650.2,1654.2 1650.4,1656.3 1650.4,1658 1650.4,1659.3 1650.5,1660.4" fill="none" stroke="#000" stroke-width="5.5" stroke-linejoin="round"/>
<path fill="#FF0000" d="M961 1289.8L964.1 1295.6H957.9zM1011 1292.3L1014.1 1298.1H1007.9zM1020 1294L1023.2 1299.8H1016.9zM1029 1296.6L1032.2 1302.4H1025.9zM1038.1 1298.4L1041.3 1304.2H1035zM1047.1 1299.7L1050.3 1305.5H1044zM1056.1 1300.7L1059.3 1306.5H1053zM1065.1 1301.7L1068.3 1307.5H1062zM1074.1 1302.5L1077.3 1308.3H1071zM1083.1 1303.4L1086.3 1309.2H1080zM1092.1 1304.2L1095.3 1310H1089zM1101.1 1305.1L1104.2 1310.9H1097.9zM1110.1 1305.9L1113.2 1311.7H1106.9zM1119.1 1306.8L1122.2 1312.6H1115.9zM1128.1 1307.7L1131.2 1313.5H1124.9zM1137.1 1308.6L1140.2 1314.4H1133.9zM1146.1 1309.5L1149.2 1315.3H1142.9zM1155.1 1310.4L1158.2 1316.2H1151.9zM1164.1 1311.3L1167.2 1317.1H1160.9zM1173 1312.2L1176.2 1318H1169.9zM1182 1313.1L1185.2 1318.9H1178.9zM1191 1314L1194.2 1319.8H1187.9zM1200 1314.8L1203.2 1320.6H1196.9zM1209 1315.7L1212.2 1321.5H1205.9zM1218 1316.5L1221.2 1322.3H1214.9zM1227 1317.1L1230.2 1322.9H1223.9zM1236 1317.3L1239.2 1323.1H1232.9zM1245 1317.5L1248.2 1323.3H1241.9zM1254 1317.5L1257.2 1323.3H1250.9zM1263 1317.4L1266.2 1323.2H1259.9zM1272 1317.3L1275.2 1323.1H1268.9zM1281 1317.3L1284.2 1323.1H1277.9zM1290 1317.2L1293.2 1323H1286.9zM1299 1317.3L1302.2 1323.1H1295.9zM1308 1317.4L1311.2 1323.2H1304.9zM1317 1317.6L1320.2 1323.4H1313.9zM1326 1317.9L1329.2 1323.7H1322.9zM1335 1318.2L1338.2 1324H1331.9zM1344 1318.5L1347.2 1324.3H1340.9zM1353 1319L1356.2 1324.8H1349.9zM1362 1319.5L1365.2 1325.3H1358.9zM1371 1320.1L1374.2 1325.9H1367.9zM1380 1320.7L1383.2 1326.5H1376.9zM1389 1321.4L1392.2 1327.2H1385.9zM1398 1322.2L1401.2 1328H1394.9zM1407 1323.1L1410.2 1328.9H1403.9zM1416 1324.1L1419.1 1329.9H1412.8zM1425 1325.4L1428.1 1331.2H1421.8zM1433.9 1326.8L1437.1 1332.6H1430.8zM1442.9 1328.5L1446.1 1334.3H1439.8zM1451.9 1330.5L1455 1336.3H1448.7zM1459.7 1334.8L1462.9 1340.6H1456.6zM1468.9 1340.8L1472.1 1346.6H1465.8zM1477.8 1345.6L1481 1351.4H1474.7zM1486.7 1349.3L1489.9 1355.1H1483.6zM1495.7 1352.5L1498.8 1358.3H1492.5zM1504.6 1355.5L1507.8 1361.3H1501.5zM1513.5 1358.5L1516.7 1364.3H1510.4zM1522.5 1361.3L1525.6 1367.1H1519.3zM1531.4 1364.1L1534.6 1369.9H1528.3zM1540.4 1366.4L1543.6 1372.2H1537.3zM1549.5 1367.8L1552.6 1373.6H1546.3zM1558.4 1369L1561.6 1374.8H1555.3zM1567.1 1371.7L1570.3 1377.5H1564zM1575.2 1377.5L1578.3 1383.3H1572zM1583.4 1384.3L1586.6 1390.1H1580.3zM1592.6 1388.8L1595.7 1394.6H1589.4zM1601.5 1391.8L1604.6 1397.6H1598.3zM1610.2 1395.9L1613.3 1401.7H1607zM1618 1402.1L1621.1 1407.9H1614.8zM1624.1 1411.2L1627.3 1417H1621zM1629 1422.7L1632.1 1428.5H1625.8zM1635.5 1432.7L1638.7 1438.5H1632.4zM1641.5 1442.5L1644.6 1448.3H1638.3zM1644.5 1454.7L1647.6 1460.5H1641.3zM1650.4 1465.8L1653.5 1471.6H1647.2zM1658.1 1473.3L1661.3 1479.1H1655zM1663.6 1483.7L1666.7 1489.5H1660.4zM1666.2 1496L1669.3 1501.8H1663zM1668.3 1508.7L1671.5 1514.5H1665.2zM1670.1 1521.5L1673.3 1527.3H1667zM1670.3 1534.4L1673.4 1540.2H1667.1zM1672.7 1546.9L1675.9 1552.7H1669.6zM1677.6 1558L1680.7 1563.8H1674.4zM1677.6 1570.9L1680.7 1576.7H1674.4zM1677.5 1583.9L1680.7 1589.7H1674.3zM1677.2 1596.9L1680.4 1602.7H1674.1zM1678.2 1609.8L1681.3 1615.6H1675zM1681.8 1622L1684.9 1627.8H1678.6zM1682.7 1634.8L1685.8 1640.6H1679.5z"/>
<path fill="#0000FF" d="M961 1296.2L964.1 1290.4H957.9zM1022 1295.1L1025.2 1289.3H1018.9zM1025.8 1295.2L1028.9 1289.4H1022.6zM1034.8 1295.8L1037.9 1290H1031.6zM1043.8 1296.3L1046.9 1290.5H1040.6zM1052.8 1296.9L1055.9 1291.1H1049.6zM1061.8 1297.5L1064.9 1291.7H1058.6zM1070.8 1298.1L1073.9 1292.3H1067.6zM1079.7 1298.8L1082.9 1293H1076.6zM1088.7 1299.4L1091.9 1293.6H1085.6zM1097.7 1300.1L1100.9 1294.3H1094.6zM1106.7 1300.8L1109.9 1295H1103.6zM1115.7 1301.5L1118.9 1295.7H1112.6zM1124.7 1302.3L1127.8 1296.5H1121.5zM1133.7 1303.2L1136.8 1297.4H1130.5zM1142.6 1304.2L1145.8 1298.4H1139.5zM1151.6 1305.6L1154.7 1299.8H1148.4zM1160.5 1307.4L1163.7 1301.6H1157.4zM1169.5 1309.1L1172.6 1303.3H1166.3zM1178.5 1310.4L1181.6 1304.6H1175.3zM1187.4 1311.6L1190.6 1305.8H1184.3zM1196.4 1312.6L1199.6 1306.8H1193.3zM1205.4 1313.7L1208.5 1307.9H1202.2zM1214.4 1314.7L1217.5 1308.9H1211.2zM1223.4 1315.7L1226.5 1309.9H1220.2zM1232.3 1316.8L1235.5 1311H1229.2zM1241.3 1318L1244.4 1312.2H1238.1zM1250.3 1319.2L1253.4 1313.4H1247.1zM1259.2 1320.4L1262.4 1314.6H1256.1zM1268.2 1321.7L1271.4 1315.9H1265.1zM1277.2 1322.9L1280.3 1317.1H1274zM1286.2 1324L1289.3 1318.2H1283zM1295.1 1325.1L1298.3 1319.3H1292zM1304.1 1326L1307.3 1320.2H1301zM1313.1 1326.7L1316.3 1320.9H1310zM1322.1 1327.4L1325.3 1321.6H1319zM1331.1 1328L1334.3 1322.2H1328zM1340.1 1328.5L1343.3 1322.7H1337zM1349.1 1328.9L1352.3 1323.1H1346zM1358.1 1329.4L1361.3 1323.6H1355zM1367.1 1329.9L1370.3 1324.1H1364zM1376.1 1330.3L1379.2 1324.5H1372.9zM1385.1 1330.7L1388.2 1324.9H1381.9zM1394.1 1331L1397.2 1325.2H1390.9zM1403.1 1331.5L1406.2 1325.7H1399.9zM1412.1 1332L1415.2 1326.2H1408.9zM1421.1 1332.8L1424.2 1327H1417.9zM1430 1333.7L1433.2 1327.9H1426.9zM1439 1334.8L1442.2 1329H1435.9zM1447.9 1336.2L1451.1 1330.4H1444.8zM1456.9 1337.9L1460 1332.1H1453.7zM1465.8 1339.7L1469 1333.9H1462.7zM1474.7 1341.8L1477.9 1336H1471.6zM1483.6 1344.2L1486.7 1338.4H1480.4zM1492.3 1347.2L1495.4 1341.4H1489.1zM1500.8 1351.4L1503.9 1345.6H1497.6zM1509.2 1356.4L1512.3 1350.6H1506zM1517.7 1361.1L1520.9 1355.3H1514.6zM1526.5 1365.2L1529.6 1359.4H1523.3zM1535.2 1369L1538.3 1363.2H1532zM1544.1 1372.1L1547.2 1366.3H1540.9zM1553 1374.3L1556.2 1368.5H1549.9zM1562 1375.3L1565.2 1369.5H1558.9zM1571 1376.1L1574.2 1370.3H1567.9zM1579.8 1378L1583 1372.2H1576.7zM1588.4 1381.7L1591.6 1375.9H1585.3zM1597.3 1385.3L1600.4 1379.5H1594.1zM1606.2 1388L1609.3 1382.2H1603zM1615 1390.8L1618.1 1385H1611.8zM1623.7 1394.1L1626.8 1388.3H1620.5zM1631.9 1398.8L1635.1 1393H1628.8zM1639.8 1404.8L1643 1399H1636.7zM1647.2 1411.9L1650.4 1406.1H1644.1zM1654.1 1420L1657.2 1414.2H1650.9zM1661.3 1428L1664.4 1422.2H1658.1zM1668.7 1435.6L1671.8 1429.8H1665.5zM1676.6 1442.3L1679.7 1436.5H1673.4zM1685 1447.6L1688.1 1441.8H1681.8zM1692.4 1454.6L1695.6 1448.8H1689.3zM1697.3 1464L1700.4 1458.2H1694.1z"/>
<path fill="#008A5A" d="M961 1289.6L964.4 1293L961 1296.4L957.6 1293zM1043 1299L1046.4 1302.4L1043 1305.8L1039.6 1302.4zM1048 1299.6L1051.4 1303L1048 1306.4L1044.6 1303zM1053 1300.1L1056.4 1303.5L1053 1306.9L1049.6 1303.5zM1058 1300.6L1061.4 1304L1058 1307.4L1054.6 1304zM1063 1301.2L1066.4 1304.6L1063 1308L1059.6 1304.6zM1068 1301.8L1071.4 1305.2L1068 1308.6L1064.6 1305.2zM1073 1302.4L1076.4 1305.8L1073 1309.2L1069.6 1305.8zM1078 1303.1L1081.4 1306.5L1078 1309.9L1074.6 1306.5zM1083 1303.9L1086.4 1307.3L1083 1310.7L1079.6 1307.3zM1088 1304.8L1091.4 1308.2L1088 1311.6L1084.6 1308.2zM1093.1 1305.9L1096.5 1309.3L1093.1 1312.7L1089.7 1309.3zM1098.1 1307.1L1101.5 1310.5L1098.1 1313.9L1094.7 1310.5zM1103.1 1308.2L1106.5 1311.6L1103.1 1315L1099.7 1311.6zM1108.1 1309.3L1111.5 1312.7L1108.1 1316.1L1104.7 1312.7zM1113.1 1310.3L1116.5 1313.7L1113.1 1317.1L1109.7 1313.7zM1118.2 1311.2L1121.6 1314.6L1118.2 1318L1114.8 1314.6zM1123.2 1311.9L1126.6 1315.3L1123.2 1318.7L1119.8 1315.3zM1128.2 1312.6L1131.6 1316L1128.2 1319.4L1124.8 1316zM1133.2 1313.2L1136.6 1316.6L1133.2 1320L1129.8 1316.6zM1138.2 1313.8L1141.6 1317.2L1138.2 1320.6L1134.8 1317.2zM1143.2 1314.4L1146.6 1317.8L1143.2 1321.2L1139.8 1317.8zM1148.2 1315L1151.6 1318.4L1148.2 1321.8L1144.8 1318.4zM1153.2 1315.5L1156.6 1318.9L1153.2 1322.3L1149.8 1318.9zM1158.2 1316.1L1161.6 1319.5L1158.2 1322.9L1154.8 1319.5zM1163.2 1316.6L1166.6 1320L1163.2 1323.4L1159.8 1320zM1168.2 1317.1L1171.6 1320.5L1168.2 1323.9L1164.8 1320.5zM1173.2 1317.6L1176.6 1321L1173.2 1324.4L1169.8 1321zM1178.3 1318.2L1181.7 1321.6L1178.3 1325L1174.9 1321.6zM1183.3 1318.7L1186.7 1322.1L1183.3 1325.5L1179.9 1322.1zM1188.3 1319.2L1191.7 1322.6L1188.3 1326L1184.9 1322.6zM1193.3 1319.6L1196.7 1323L1193.3 1326.4L1189.9 1323zM1198.3 1320.1L1201.7 1323.5L1198.3 1326.9L1194.9 1323.5zM1203.3 1320.5L1206.7 1323.9L1203.3 1327.3L1199.9 1323.9zM1208.3 1321L1211.7 1324.4L1208.3 1327.8L1204.9 1324.4zM1213.3 1321.5L1216.7 1324.9L1213.3 1328.3L1209.9 1324.9zM1218.3 1322L1221.7 1325.4L1218.3 1328.8L1214.9 1325.4zM1223.3 1322.5L1226.7 1325.9L1223.3 1329.3L1219.9 1325.9zM1228.3 1323L1231.7 1326.4L1228.3 1329.8L1224.9 1326.4zM1233.3 1323.5L1236.7 1326.9L1233.3 1330.3L1229.9 1326.9zM1238.3 1324.2L1241.7 1327.6L1238.3 1331L1234.9 1327.6zM1243.3 1324.8L1246.7 1328.2L1243.3 1331.6L1239.9 1328.2zM1248.3 1325.5L1251.7 1328.9L1248.3 1332.3L1244.9 1328.9zM1253.3 1326.2L1256.7 1329.6L1253.3 1333L1249.9 1329.6zM1258.3 1326.9L1261.7 1330.3L1258.3 1333.7L1254.9 1330.3zM1263.3 1327.7L1266.7 1331.1L1263.3 1334.5L1259.9 1331.1zM1268.3 1328.4L1271.7 1331.8L1268.3 1335.2L1264.9 1331.8zM1273.3 1329.1L1276.7 1332.5L1273.3 1335.9L1269.9 1332.5zM1278.4 1329.8L1281.8 1333.2L1278.4 1336.6L1275 1333.2zM1283.4 1330.5L1286.8 1333.9L1283.4 1337.3L1280 1333.9zM1288.4 1331.1L1291.8 1334.5L1288.4 1337.9L1285 1334.5zM1293.4 1331.6L1296.8 1335L1293.4 1338.4L1290 1335zM1298.4 1332.2L1301.8 1335.6L1298.4 1339L1295 1335.6zM1303.4 1332.6L1306.8 1336L1303.4 1339.4L1300 1336zM1308.4 1333.1L1311.8 1336.5L1308.4 1339.9L1305 1336.5zM1313.4 1333.5L1316.8 1336.9L1313.4 1340.3L1310 1336.9zM1318.4 1333.9L1321.8 1337.3L1318.4 1340.7L1315 1337.3zM1323.4 1334.2L1326.8 1337.6L1323.4 1341L1320 1337.6zM1328.4 1334.6L1331.8 1338L1328.4 1341.4L1325 1338zM1333.4 1334.9L1336.8 1338.3L1333.4 1341.7L1330 1338.3zM1338.4 1335.2L1341.8 1338.6L1338.4 1342L1335 1338.6zM1343.4 1335.5L1346.8 1338.9L1343.4 1342.3L1340 1338.9zM1348.4 1335.9L1351.8 1339.3L1348.4 1342.7L1345 1339.3zM1353.4 1336.2L1356.8 1339.6L1353.4 1343L1350 1339.6zM1358.4 1336.4L1361.8 1339.8L1358.4 1343.2L1355 1339.8zM1363.4 1336.7L1366.8 1340.1L1363.4 1343.5L1360 1340.1zM1368.4 1336.9L1371.8 1340.3L1368.4 1343.7L1365 1340.3zM1373.4 1337L1376.8 1340.4L1373.4 1343.8L1370 1340.4zM1378.4 1337.1L1381.8 1340.5L1378.4 1343.9L1375 1340.5zM1383.4 1337.1L1386.8 1340.5L1383.4 1343.9L1380 1340.5zM1388.4 1337.1L1391.8 1340.5L1388.4 1343.9L1385 1340.5zM1393.4 1337L1396.8 1340.4L1393.4 1343.8L1390 1340.4zM1398.4 1336.9L1401.8 1340.3L1398.4 1343.7L1395 1340.3zM1403.4 1336.8L1406.8 1340.2L1403.4 1343.6L1400 1340.2zM1408.4 1336.9L1411.8 1340.3L1408.4 1343.7L1405 1340.3zM1413.4 1337.1L1416.8 1340.5L1413.4 1343.9L1410 1340.5zM1418.4 1337.4L1421.8 1340.8L1418.4 1344.2L1415 1340.8zM1423.4 1337.8L1426.8 1341.2L1423.4 1344.6L1420 1341.2zM1428.4 1338.3L1431.8 1341.7L1428.4 1345.1L1425 1341.7zM1433.4 1338.8L1436.8 1342.2L1433.4 1345.6L1430 1342.2zM1438.4 1339.4L1441.8 1342.8L1438.4 1346.2L1435 1342.8zM1443.4 1340.2L1446.8 1343.6L1443.4 1347L1440 1343.6zM1448.4 1341L1451.8 1344.4L1448.4 1347.8L1445 1344.4zM1453.4 1342.1L1456.8 1345.5L1453.4 1348.9L1450 1345.5zM1458.4 1343.3L1461.8 1346.7L1458.4 1350.1L1455 1346.7zM1463.5 1344.9L1466.9 1348.3L1463.5 1351.7L1460.1 1348.3zM1468.5 1346.8L1471.9 1350.2L1468.5 1353.6L1465.1 1350.2zM1473.5 1348.7L1476.9 1352.1L1473.5 1355.5L1470.1 1352.1zM1478.6 1350.5L1482 1353.9L1478.6 1357.3L1475.2 1353.9zM1483.6 1352.3L1487 1355.7L1483.6 1359.1L1480.2 1355.7zM1488.6 1353.9L1492 1357.3L1488.6 1360.7L1485.2 1357.3zM1493.7 1355.6L1497.1 1359L1493.7 1362.4L1490.3 1359zM1498.7 1357.2L1502.1 1360.6L1498.7 1364L1495.3 1360.6zM1503.7 1358.9L1507.1 1362.3L1503.7 1365.7L1500.3 1362.3zM1508.7 1360.6L1512.1 1364L1508.7 1367.4L1505.3 1364zM1513.7 1362.4L1517.1 1365.8L1513.7 1369.2L1510.3 1365.8zM1518.7 1364.3L1522.1 1367.7L1518.7 1371.1L1515.3 1367.7zM1523.8 1366.3L1527.2 1369.7L1523.8 1373.1L1520.4 1369.7zM1528.8 1368.3L1532.2 1371.7L1528.8 1375.1L1525.4 1371.7zM1533.8 1370.2L1537.2 1373.6L1533.8 1377L1530.4 1373.6zM1538.9 1372.1L1542.3 1375.5L1538.9 1378.9L1535.5 1375.5zM1543.9 1374L1547.3 1377.4L1543.9 1380.8L1540.5 1377.4zM1549 1375.6L1552.4 1379L1549 1382.4L1545.6 1379zM1554 1377.2L1557.4 1380.6L1554 1384L1550.6 1380.6zM1559 1378.7L1562.4 1382.1L1559 1385.5L1555.6 1382.1zM1564.1 1380.1L1567.5 1383.5L1564.1 1386.9L1560.7 1383.5zM1569.1 1381.4L1572.5 1384.8L1569.1 1388.2L1565.7 1384.8zM1574.2 1382.6L1577.6 1386L1574.2 1389.4L1570.8 1386zM1579.2 1383.5L1582.6 1386.9L1579.2 1390.3L1575.8 1386.9zM1584.2 1384.3L1587.6 1387.7L1584.2 1391.1L1580.8 1387.7zM1589.2 1385.2L1592.6 1388.6L1589.2 1392L1585.8 1388.6zM1594.2 1386.2L1597.6 1389.6L1594.2 1393L1590.8 1389.6zM1599.2 1387.4L1602.6 1390.8L1599.2 1394.2L1595.8 1390.8zM1604.2 1388.6L1607.6 1392L1604.2 1395.4L1600.8 1392zM1609.2 1389.9L1612.6 1393.3L1609.2 1396.7L1605.8 1393.3zM1614.2 1391.4L1617.6 1394.8L1614.2 1398.2L1610.8 1394.8zM1619.2 1392.9L1622.6 1396.3L1619.2 1399.7L1615.8 1396.3zM1624.3 1394.5L1627.7 1397.9L1624.3 1401.3L1620.9 1397.9zM1629.3 1396.2L1632.7 1399.6L1629.3 1403L1625.9 1399.6zM1634.3 1397.9L1637.7 1401.3L1634.3 1404.7L1630.9 1401.3zM1639.3 1399.6L1642.7 1403L1639.3 1406.4L1635.9 1403zM1644.4 1401.4L1647.8 1404.8L1644.4 1408.2L1641 1404.8zM1649.4 1403.2L1652.8 1406.6L1649.4 1410L1646 1406.6zM1654.4 1405.1L1657.8 1408.5L1654.4 1411.9L1651 1408.5zM1659.4 1407.3L1662.8 1410.7L1659.4 1414.1L1656 1410.7zM1664.3 1409.8L1667.7 1413.2L1664.3 1416.6L1660.9 1413.2zM1669.3 1412.5L1672.7 1415.9L1669.3 1419.3L1665.9 1415.9zM1674.2 1415.5L1677.6 1418.9L1674.2 1422.3L1670.8 1418.9zM1679.1 1418.6L1682.5 1422L1679.1 1425.4L1675.7 1422zM1683.9 1422L1687.3 1425.4L1683.9 1428.8L1680.5 1425.4zM1688.7 1425.7L1692.1 1429.1L1688.7 1432.5L1685.3 1429.1zM1693.5 1429.6L1696.9 1433L1693.5 1436.4L1690.1 1433z"/>
<path fill="#8000FF" d="M957.8 1293L963.6 1289.8V1296.2zM1016.8 1301L1022.6 1297.8V1304.2zM1024.9 1301.7L1030.7 1298.5V1304.8zM1035.9 1302.5L1041.7 1299.3V1305.6zM1046.9 1303.3L1052.7 1300.1V1306.4zM1057.8 1304.1L1063.6 1301V1307.3zM1068.8 1305.2L1074.6 1302V1308.3zM1079.7 1306.4L1085.5 1303.3V1309.6zM1090.6 1308L1096.4 1304.8V1311.1zM1101.4 1309.8L1107.2 1306.6V1312.9zM1112.2 1311.7L1118 1308.5V1314.8zM1123 1313.6L1128.8 1310.5V1316.8zM1133.8 1315.4L1139.6 1312.3V1318.6zM1144.6 1317.1L1150.4 1314V1320.3zM1155.5 1318.8L1161.3 1315.6V1321.9zM1166.3 1320.4L1172.1 1317.3V1323.6zM1177.2 1322L1183 1318.9V1325.2zM1188.1 1323.6L1193.9 1320.5V1326.8zM1198.9 1325.2L1204.7 1322.1V1328.4zM1209.8 1326.8L1215.6 1323.6V1329.9zM1220.7 1328.3L1226.5 1325.2V1331.5zM1231.5 1329.9L1237.3 1326.8V1333.1zM1242.4 1331.6L1248.2 1328.5V1334.8zM1253.2 1333.6L1259 1330.4V1336.7zM1263.9 1335.7L1269.7 1332.6V1338.9zM1274.6 1338.1L1280.4 1334.9V1341.2zM1285.3 1340.5L1291.1 1337.4V1343.7zM1295.9 1343.1L1301.7 1339.9V1346.2zM1306.5 1346.1L1312.3 1342.9V1349.2zM1316.9 1349.2L1322.7 1346.1V1352.4zM1327.7 1350.7L1333.5 1347.6V1353.9zM1338.7 1351.5L1344.5 1348.4V1354.7zM1349.7 1352.1L1355.5 1349V1355.3zM1360.7 1352.7L1366.5 1349.6V1355.9zM1371.6 1353.4L1377.4 1350.2V1356.5zM1382.6 1354L1388.4 1350.9V1357.2zM1393.6 1354.8L1399.4 1351.6V1357.9zM1404.5 1356.2L1410.3 1353V1359.3zM1415.2 1358.3L1421 1355.1V1361.4zM1425.9 1360.7L1431.7 1357.6V1363.9zM1436.5 1363.4L1442.3 1360.2V1366.5zM1447.1 1366.4L1452.9 1363.2V1369.5zM1457.5 1369.5L1463.3 1366.3V1372.6zM1467.6 1373.5L1473.4 1370.4V1376.7zM1477 1379L1482.8 1375.9V1382.2zM1485.7 1385.2L1491.5 1382V1388.3zM1494.4 1391.3L1500.2 1388.2V1394.5zM1503.5 1397L1509.3 1393.9V1400.2zM1512.6 1402.6L1518.4 1399.5V1405.8zM1521.9 1408L1527.7 1404.9V1411.2zM1531.4 1413.1L1537.2 1409.9V1416.2zM1541.2 1417.7L1547 1414.5V1420.8zM1550.1 1423.7L1555.9 1420.6V1426.9zM1557.9 1430.9L1563.7 1427.8V1434.1zM1565.2 1438.4L1571 1435.3V1441.6zM1572.6 1445.8L1578.4 1442.7V1449zM1580.1 1453.3L1585.9 1450.1V1456.4zM1587.5 1460.6L1593.3 1457.5V1463.8zM1595.4 1467.7L1601.2 1464.5V1470.8zM1602.6 1475.3L1608.4 1472.1V1478.4zM1610.3 1482.4L1616.1 1479.3V1485.6zM1618.1 1489.5L1623.9 1486.4V1492.7zM1623.2 1498.5L1629 1495.4V1501.7zM1625.1 1508.3L1630.9 1505.2V1511.5zM1632.8 1514.9L1638.6 1511.7V1518zM1637.7 1523.7L1643.5 1520.6V1526.9zM1641.9 1532.5L1647.7 1529.3V1535.6zM1648.8 1540.3L1654.6 1537.2V1543.5zM1652.6 1549.8L1658.4 1546.7V1553zM1654.1 1559.7L1659.9 1556.6V1562.9zM1655.8 1569.6L1661.6 1566.5V1572.8zM1659.2 1579.1L1665 1575.9V1582.2zM1662.8 1588.5L1668.6 1585.4V1591.7zM1665.7 1598.2L1671.5 1595.1V1601.4zM1667.5 1608.1L1673.3 1605V1611.3zM1670.6 1617.7L1676.4 1614.5V1620.8zM1673.2 1627.4L1679 1624.3V1630.6zM1674.9 1637.3L1680.7 1634.2V1640.5zM1676.1 1647.3L1681.9 1644.1V1650.4zM1679 1656.9L1684.8 1653.7V1660z"/>
<path fill="#E5A82A" d="M964.2 1293L958.4 1289.8V1296.2zM1027.2 1298.6L1021.4 1295.4V1301.8zM1035.2 1299.4L1029.4 1296.2V1302.5zM1043.2 1300.2L1037.4 1297V1303.3zM1051.2 1301L1045.4 1297.8V1304.1zM1059.3 1301.8L1053.5 1298.6V1304.9zM1067.3 1302.6L1061.5 1299.4V1305.7zM1075.3 1303.4L1069.5 1300.2V1306.5zM1083.3 1304.2L1077.5 1301V1307.3zM1091.3 1305L1085.5 1301.9V1308.2zM1099.4 1305.9L1093.6 1302.7V1309zM1107.4 1306.8L1101.6 1303.6V1309.9zM1115.4 1307.7L1109.6 1304.5V1310.8zM1123.4 1308.5L1117.6 1305.4V1311.7zM1131.4 1309.2L1125.6 1306.1V1312.4zM1139.5 1309.8L1133.7 1306.7V1313zM1147.5 1310.2L1141.7 1307.1V1313.4zM1155.5 1310.5L1149.7 1307.3V1313.6zM1163.5 1310.6L1157.7 1307.4V1313.7zM1171.5 1310.6L1165.7 1307.5V1313.8zM1179.5 1310.6L1173.7 1307.5V1313.8zM1187.5 1310.7L1181.7 1307.6V1313.9zM1195.5 1310.9L1189.7 1307.8V1314.1zM1203.5 1311.2L1197.7 1308.1V1314.4zM1211.5 1311.6L1205.7 1308.5V1314.8zM1219.5 1312.1L1213.7 1309V1315.3zM1227.5 1312.7L1221.7 1309.5V1315.8zM1235.5 1313.3L1229.7 1310.1V1316.4zM1243.5 1313.9L1237.7 1310.7V1317zM1251.5 1314.5L1245.7 1311.3V1317.6zM1259.6 1315L1253.8 1311.9V1318.2zM1267.6 1315.5L1261.8 1312.3V1318.6zM1275.6 1315.8L1269.8 1312.7V1319zM1283.6 1316.3L1277.8 1313.2V1319.5zM1291.6 1317.1L1285.8 1313.9V1320.2zM1299.6 1318.1L1293.8 1314.9V1321.2zM1307.6 1319.2L1301.8 1316V1322.3zM1315.6 1320.4L1309.8 1317.3V1323.6zM1323.7 1321.7L1317.9 1318.5V1324.8zM1331.7 1323L1325.9 1319.9V1326.2zM1339.8 1324.4L1334 1321.2V1327.5zM1347.8 1325.8L1342 1322.7V1329zM1355.9 1327.3L1350.1 1324.2V1330.5zM1363.9 1329L1358.1 1325.8V1332.1zM1372 1330.6L1366.2 1327.5V1333.8zM1380 1332.6L1374.2 1329.4V1335.7zM1388.1 1334.7L1382.3 1331.5V1337.8zM1396.2 1337L1390.4 1333.9V1340.2zM1404.2 1339.6L1398.4 1336.5V1342.8zM1412.4 1342.5L1406.6 1339.3V1345.6zM1420.5 1345.5L1414.7 1342.4V1348.7zM1428.7 1348.7L1422.9 1345.6V1351.9zM1436.9 1352.1L1431.1 1348.9V1355.2zM1445.1 1355.5L1439.3 1352.3V1358.6zM1453.2 1358.9L1447.4 1355.8V1362.1zM1461.4 1362.6L1455.6 1359.4V1365.7zM1469.5 1366.6L1463.7 1363.4V1369.7zM1477.7 1371L1471.9 1367.8V1374.1zM1485.9 1375.6L1480.1 1372.4V1378.7zM1494 1380.4L1488.2 1377.2V1383.5zM1502.2 1385.4L1496.4 1382.3V1388.6zM1510.4 1390.6L1504.6 1387.5V1393.8zM1518.6 1395.8L1512.8 1392.7V1399zM1526.8 1401.1L1521 1398V1404.3zM1535.1 1406.2L1529.3 1403V1409.3zM1542.6 1411.2L1536.8 1408.1V1414.4zM1549.1 1421L1543.3 1417.9V1424.2zM1555.6 1431.5L1549.8 1428.4V1434.7zM1561.9 1442.2L1556.1 1439V1445.3zM1568.2 1452.9L1562.4 1449.8V1456.1zM1574.7 1463.5L1568.9 1460.4V1466.7zM1581 1474.2L1575.2 1471V1477.3zM1586.3 1485.5L1580.5 1482.4V1488.7zM1594.2 1495.9L1588.4 1492.8V1499.1zM1601 1504.2L1595.2 1501.1V1507.4zM1604.4 1516.7L1598.6 1513.5V1519.8zM1611.9 1526.5L1606.1 1523.3V1529.6zM1614.8 1537.8L1609 1534.6V1540.9zM1615.2 1551.7L1609.4 1548.6V1554.9zM1618.5 1565.2L1612.7 1562.1V1568.4zM1623.3 1577.4L1617.5 1574.3V1580.6zM1625.3 1591L1619.5 1587.8V1594.1zM1628.9 1604.3L1623.1 1601.1V1607.4zM1631.1 1617.6L1625.3 1614.5V1620.8zM1632.7 1631.5L1626.9 1628.4V1634.7zM1635.4 1645.1L1629.6 1641.9V1648.2zM1639.7 1658L1633.9 1654.8V1661.1z"/>
</g>
<rect x="1529.6" y="1232" width="7.4" height="66" fill="#000"/>
<polygon points="1519.5,1296 1547.2,1296 1533.3,1354.5" fill="#000"/>
</svg></body></html>
